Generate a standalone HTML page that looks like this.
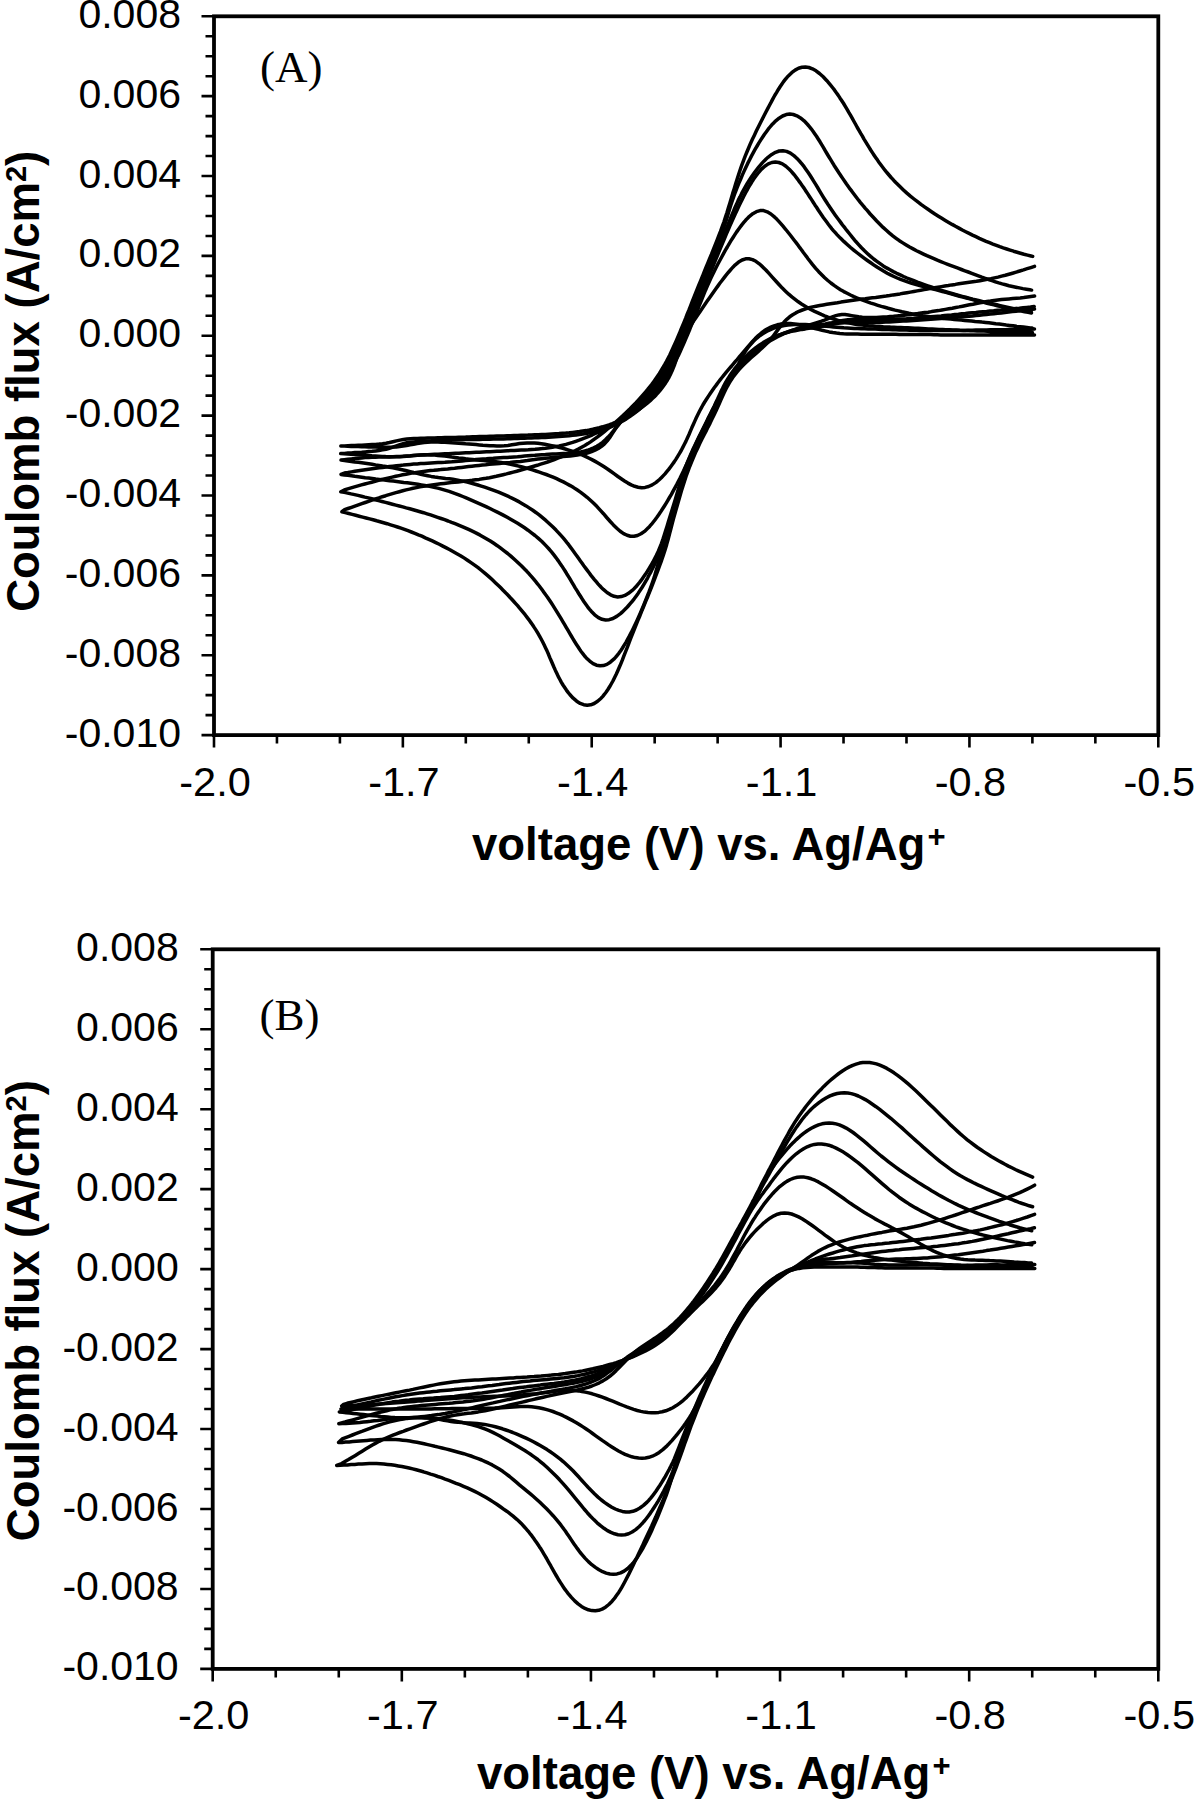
<!DOCTYPE html><html><head><meta charset="utf-8"><style>html,body{margin:0;padding:0;background:#fff;}svg{display:block;}text{font-family:"Liberation Sans",sans-serif;}</style></head><body>
<svg width="1197" height="1800" viewBox="0 0 1197 1800">
<rect width="100%" height="100%" fill="#fff"/>
<g><rect x="214.0" y="16.3" width="944.30" height="718.80" fill="none" stroke="#000" stroke-width="3.8"/><path d="M201.50 16.30H214.00M205.50 36.27H214.00M205.50 56.23H214.00M205.50 76.20H214.00M201.50 96.17H214.00M205.50 116.13H214.00M205.50 136.10H214.00M205.50 156.07H214.00M201.50 176.03H214.00M205.50 196.00H214.00M205.50 215.97H214.00M205.50 235.93H214.00M201.50 255.90H214.00M205.50 275.87H214.00M205.50 295.83H214.00M205.50 315.80H214.00M201.50 335.77H214.00M205.50 355.73H214.00M205.50 375.70H214.00M205.50 395.67H214.00M201.50 415.63H214.00M205.50 435.60H214.00M205.50 455.57H214.00M205.50 475.53H214.00M201.50 495.50H214.00M205.50 515.47H214.00M205.50 535.43H214.00M205.50 555.40H214.00M201.50 575.37H214.00M205.50 595.33H214.00M205.50 615.30H214.00M205.50 635.27H214.00M201.50 655.23H214.00M205.50 675.20H214.00M205.50 695.17H214.00M205.50 715.13H214.00M201.50 735.10H214.00M214.00 735.10V747.60M276.95 735.10V743.60M339.91 735.10V743.60M402.86 735.10V747.60M465.81 735.10V743.60M528.77 735.10V743.60M591.72 735.10V747.60M654.67 735.10V743.60M717.63 735.10V743.60M780.58 735.10V747.60M843.53 735.10V743.60M906.49 735.10V743.60M969.44 735.10V747.60M1032.39 735.10V743.60M1095.35 735.10V743.60M1158.30 735.10V747.60" stroke="#000" stroke-width="2.6" fill="none"/><text x="181.0" y="27.8" font-size="41" text-anchor="end">0.008</text><text x="181.0" y="107.7" font-size="41" text-anchor="end">0.006</text><text x="181.0" y="187.5" font-size="41" text-anchor="end">0.004</text><text x="181.0" y="267.4" font-size="41" text-anchor="end">0.002</text><text x="181.0" y="347.3" font-size="41" text-anchor="end">0.000</text><text x="181.0" y="427.1" font-size="41" text-anchor="end">-0.002</text><text x="181.0" y="507.0" font-size="41" text-anchor="end">-0.004</text><text x="181.0" y="586.9" font-size="41" text-anchor="end">-0.006</text><text x="181.0" y="666.7" font-size="41" text-anchor="end">-0.008</text><text x="181.0" y="746.6" font-size="41" text-anchor="end">-0.010</text><text x="215.0" y="795.6" font-size="41.5" text-anchor="middle">-2.0</text><text x="403.9" y="795.6" font-size="41.5" text-anchor="middle">-1.7</text><text x="592.7" y="795.6" font-size="41.5" text-anchor="middle">-1.4</text><text x="781.6" y="795.6" font-size="41.5" text-anchor="middle">-1.1</text><text x="970.4" y="795.6" font-size="41.5" text-anchor="middle">-0.8</text><text x="1159.3" y="795.6" font-size="41.5" text-anchor="middle">-0.5</text><text x="472.0" y="860.1" font-size="45.5" font-weight="bold">voltage (V) vs. Ag/Ag<tspan font-size="31" dx="2" dy="-13">+</tspan></text><text transform="translate(39,381.3) rotate(-90)" font-size="45.5" font-weight="bold" text-anchor="middle">Coulomb &#xFB02;ux (A/cm<tspan font-size="29" dy="-13">2</tspan><tspan dy="13">)</tspan></text><text x="260.0" y="82.0" font-size="45" style="font-family:'Liberation Serif',serif">(A)</text><path d="M1034.5 335.0 L1030.9 335.0 L1027.3 335.1 L1023.6 335.1 L1020.0 335.1 L1016.2 335.1 L1012.5 335.1 L1008.7 335.1 L1005.0 335.0 L1001.2 335.0 L997.5 335.0 L993.8 335.0 L990.1 335.0 L986.5 335.0 L982.9 335.0 L979.3 335.0 L975.7 335.0 L972.2 335.0 L968.7 335.1 L965.2 335.1 L961.7 335.1 L958.2 335.1 L954.7 335.1 L951.2 335.1 L947.8 335.0 L944.3 335.0 L940.8 334.9 L937.4 334.8 L933.9 334.7 L930.4 334.6 L927.0 334.6 L923.5 334.5 L920.1 334.5 L916.6 334.5 L913.2 334.4 L909.7 334.4 L906.2 334.4 L902.8 334.4 L899.3 334.4 L895.9 334.3 L892.4 334.3 L888.9 334.3 L885.5 334.3 L882.0 334.2 L878.5 334.2 L875.1 334.2 L871.6 334.2 L868.1 334.2 L864.6 334.2 L861.1 334.2 L857.6 334.1 L854.1 334.1 L850.6 334.0 L847.0 333.9 L843.5 333.7 L839.9 333.4 L836.4 333.0 L832.8 332.5 L829.2 331.9 L825.7 331.1 L822.1 330.3 L818.5 329.4 L815.0 328.5 L811.5 327.5 L807.9 326.6 L804.4 325.7 L800.9 325.0 L797.5 324.4 L794.0 323.9 L790.6 323.6 L787.2 323.6 L783.9 323.7 L780.6 324.1 L777.3 324.8 L774.0 325.8 L770.8 327.1 L767.6 328.7 L764.5 330.6 L761.4 333.0 L758.3 335.6 L755.2 338.6 L752.1 342.0 L748.9 345.6 L745.7 349.4 L744.0 351.4 L742.3 353.4 L740.6 355.4 L738.8 357.5 L737.1 359.6 L735.2 361.7 L733.4 363.8 L731.6 366.0 L729.7 368.2 L727.8 370.4 L725.9 372.7 L723.9 375.1 L722.0 377.5 L720.1 379.9 L718.1 382.5 L716.2 385.1 L714.2 387.7 L712.3 390.4 L710.4 393.2 L708.5 396.1 L706.6 399.0 L704.7 402.0 L702.9 405.0 L701.2 408.1 L699.5 411.3 L697.9 414.5 L696.3 417.8 L694.8 421.1 L693.3 424.5 L691.8 427.8 L690.4 431.2 L689.0 434.5 L687.5 437.8 L686.0 441.1 L684.4 444.3 L682.8 447.4 L681.2 450.5 L679.5 453.4 L677.7 456.3 L676.0 459.1 L674.2 461.9 L672.3 464.5 L670.5 467.0 L668.7 469.4 L666.8 471.7 L665.0 473.9 L663.1 475.9 L661.3 477.8 L659.5 479.5 L655.8 482.6 L652.2 484.9 L648.6 486.5 L645.1 487.4 L641.6 487.7 L638.1 487.2 L634.7 486.3 L631.2 484.9 L627.9 483.1 L624.5 481.0 L621.2 478.8 L617.9 476.5 L614.7 474.1 L611.4 471.8 L608.2 469.5 L604.9 467.3 L601.7 465.2 L598.4 463.2 L595.2 461.4 L591.9 459.6 L588.6 458.0 L585.3 456.4 L582.0 455.0 L578.7 453.6 L575.4 452.4 L572.0 451.2 L568.7 450.1 L565.3 449.0 L561.9 448.1 L558.6 447.2 L555.2 446.3 L551.7 445.6 L548.3 444.9 L544.9 444.3 L541.4 443.7 L537.9 443.3 L534.3 443.0 L530.7 442.9 L527.1 442.9 L523.3 443.2 L519.5 443.6 L515.7 444.2 L511.8 444.8 L508.0 445.4 L504.2 445.7 L500.5 445.9 L496.9 445.9 L493.4 445.8 L489.9 445.7 L486.4 445.4 L482.9 445.2 L479.4 444.9 L476.0 444.6 L472.5 444.3 L469.0 444.0 L465.6 443.8 L462.1 443.5 L458.7 443.2 L455.2 443.0 L451.8 442.8 L448.3 442.5 L444.8 442.3 L441.4 442.2 L437.9 442.1 L434.5 442.0 L431.0 442.0 L427.5 442.2 L424.1 442.5 L420.6 443.0 L417.1 443.6 L413.6 444.3 L410.1 444.9 L406.6 445.6 L403.1 446.1 L399.7 446.6 L396.2 446.9 L392.7 447.1 L389.3 447.2 L385.8 447.2 L382.3 447.2 L378.9 447.2 L375.4 447.1 L371.9 447.0 L368.5 447.0 L365.0 446.8 L361.6 446.7 L358.1 446.6 L354.7 446.5 L351.2 446.4 L347.7 446.2 L344.3 446.1 L340.8 446.0 L344.5 445.9 L347.9 445.7 L351.4 445.6 L354.8 445.5 L358.3 445.3 L361.7 445.2 L365.2 445.0 L368.7 444.8 L372.1 444.6 L375.6 444.4 L379.0 444.1 L382.5 443.7 L386.0 443.2 L389.5 442.5 L392.9 441.7 L396.4 440.9 L399.9 440.1 L403.4 439.5 L406.9 439.1 L410.4 438.7 L413.8 438.5 L417.3 438.4 L420.7 438.3 L424.2 438.2 L427.7 438.1 L431.1 438.0 L434.6 437.9 L438.0 437.8 L441.5 437.7 L444.9 437.6 L448.4 437.5 L451.8 437.4 L455.3 437.4 L458.8 437.3 L462.2 437.2 L465.7 437.1 L469.1 436.9 L472.6 436.8 L476.0 436.7 L479.5 436.6 L482.9 436.5 L486.4 436.4 L489.9 436.3 L493.3 436.2 L496.8 436.1 L500.2 436.0 L503.7 435.9 L507.1 435.8 L510.6 435.7 L514.0 435.5 L517.5 435.4 L521.0 435.3 L524.4 435.2 L527.9 435.1 L531.3 434.9 L534.8 434.8 L538.2 434.7 L541.7 434.5 L545.2 434.4 L548.6 434.2 L552.1 434.0 L555.5 433.8 L559.0 433.6 L562.4 433.3 L565.8 433.1 L569.3 432.8 L572.7 432.4 L576.1 432.0 L579.5 431.6 L582.8 431.1 L586.2 430.6 L589.5 430.0 L592.8 429.3 L596.1 428.5 L599.4 427.7 L602.6 426.8 L605.8 425.8 L609.0 424.8 L612.3 423.6 L615.5 422.3 L618.7 420.9 L622.0 419.4 L625.3 417.8 L628.7 415.9 L632.1 413.9 L635.6 411.7 L639.2 409.3 L642.9 406.6 L646.7 403.7 L650.5 400.4 L652.4 398.6 L654.4 396.7 L656.3 394.7 L658.2 392.6 L660.1 390.4 L662.0 388.0 L663.8 385.5 L665.6 382.9 L667.3 380.2 L669.0 377.3 L670.5 374.2 L672.0 371.1 L673.4 367.7 L674.7 364.3 L675.9 360.8 L677.1 357.1 L678.3 353.4 L679.5 349.7 L680.8 346.0 L682.2 342.2 L683.8 338.5 L685.5 334.9 L687.4 331.3 L689.4 327.8 L691.5 324.3 L693.7 320.9 L696.0 317.5 L698.2 314.2 L700.5 310.9 L702.8 307.6 L705.0 304.3 L707.2 301.1 L709.4 298.0 L711.5 294.9 L713.6 291.9 L715.7 289.0 L717.8 286.1 L719.8 283.3 L721.8 280.7 L723.8 278.1 L725.7 275.6 L727.7 273.2 L729.6 271.0 L731.4 268.9 L733.2 266.9 L735.0 265.1 L738.6 262.1 L742.1 260.0 L745.6 258.8 L749.0 258.7 L752.5 259.6 L755.9 261.3 L759.3 263.8 L762.7 266.9 L766.1 270.3 L769.4 273.9 L772.7 277.6 L776.0 281.2 L779.2 284.7 L782.3 288.1 L785.5 291.2 L788.7 294.2 L791.9 296.9 L795.1 299.4 L798.3 301.8 L801.5 304.0 L804.8 306.0 L808.0 307.9 L811.3 309.7 L814.6 311.4 L818.0 312.9 L821.3 314.4 L824.6 315.8 L828.0 317.1 L831.4 318.3 L834.8 319.4 L838.2 320.4 L841.6 321.3 L845.0 322.2 L848.5 322.9 L851.9 323.6 L855.4 324.2 L858.9 324.7 L862.3 325.1 L865.8 325.5 L869.3 325.9 L872.8 326.1 L876.3 326.4 L879.8 326.6 L883.3 326.8 L886.8 326.9 L890.3 327.1 L893.8 327.2 L897.3 327.4 L900.8 327.5 L904.3 327.7 L907.8 327.8 L911.3 328.0 L914.8 328.2 L918.2 328.3 L921.7 328.5 L925.2 328.7 L928.6 328.9 L932.1 329.0 L935.6 329.2 L939.0 329.4 L942.5 329.5 L945.9 329.7 L949.4 329.8 L952.9 330.0 L956.3 330.1 L959.8 330.3 L963.2 330.4 L966.7 330.5 L970.2 330.7 L973.6 330.8 L977.1 330.9 L980.5 331.0 L984.0 331.1 L987.5 331.3 L990.9 331.4 L994.4 331.5 L997.8 331.6 L1001.3 331.7 L1004.7 331.8 L1008.2 331.9 L1011.7 332.0 L1015.1 332.1 L1018.6 332.2 L1022.0 332.3 L1025.5 332.4 L1028.9 332.5 L1032.4 332.6" fill="none" stroke="#000" stroke-width="3.5" stroke-linejoin="round" stroke-linecap="round"/><path d="M1034.5 329.0 L1030.9 329.2 L1027.3 329.3 L1023.7 329.4 L1020.0 329.5 L1016.3 329.6 L1012.6 329.6 L1008.8 329.6 L1005.1 329.7 L1001.3 329.7 L997.6 329.7 L993.9 329.7 L990.2 329.8 L986.6 329.9 L983.0 329.9 L979.4 330.0 L975.9 330.1 L972.3 330.2 L968.8 330.3 L965.3 330.4 L961.8 330.4 L958.3 330.5 L954.8 330.5 L951.3 330.6 L947.9 330.6 L944.4 330.6 L940.9 330.6 L937.5 330.5 L934.0 330.5 L930.5 330.5 L927.1 330.5 L923.6 330.4 L920.1 330.4 L916.7 330.3 L913.2 330.3 L909.8 330.2 L906.3 330.1 L902.8 330.0 L899.4 329.9 L895.9 329.8 L892.4 329.7 L889.0 329.6 L885.5 329.5 L882.0 329.4 L878.6 329.2 L875.1 329.1 L871.6 329.0 L868.2 328.9 L864.7 328.8 L861.2 328.7 L857.7 328.5 L854.2 328.4 L850.8 328.2 L847.3 328.0 L843.8 327.8 L840.3 327.5 L836.8 327.2 L833.3 326.9 L829.8 326.6 L826.3 326.2 L822.8 325.9 L819.3 325.5 L815.8 325.2 L812.3 324.9 L808.8 324.7 L805.3 324.5 L801.8 324.4 L798.3 324.4 L794.8 324.5 L791.3 324.7 L787.8 325.0 L784.3 325.5 L780.8 326.2 L777.4 327.1 L773.9 328.2 L770.4 329.6 L767.0 331.2 L763.5 333.2 L760.1 335.5 L756.6 338.3 L753.2 341.5 L749.8 345.3 L748.1 347.4 L746.4 349.8 L744.8 352.4 L743.1 355.2 L741.5 358.2 L739.8 361.4 L738.2 364.7 L736.5 368.0 L734.8 371.3 L733.1 374.4 L731.3 377.5 L729.5 380.4 L727.7 383.3 L725.9 386.2 L724.1 389.1 L722.4 392.0 L720.6 395.0 L718.9 398.0 L717.1 401.1 L715.4 404.3 L713.7 407.5 L712.0 410.8 L710.2 414.2 L708.5 417.5 L706.9 420.9 L705.2 424.4 L703.5 427.9 L701.8 431.4 L700.1 434.9 L698.5 438.5 L696.8 442.1 L695.1 445.7 L693.5 449.3 L691.8 452.9 L690.2 456.5 L688.5 460.1 L686.9 463.7 L685.2 467.3 L683.6 470.8 L681.9 474.3 L680.2 477.8 L678.4 481.2 L676.7 484.6 L674.9 487.9 L673.1 491.2 L671.4 494.4 L669.5 497.5 L667.7 500.6 L665.9 503.6 L664.1 506.5 L662.3 509.3 L660.5 512.1 L658.7 514.7 L656.9 517.3 L655.1 519.7 L653.3 522.0 L651.6 524.2 L649.8 526.2 L648.0 528.1 L644.5 531.4 L641.0 533.8 L637.5 535.5 L634.0 536.3 L630.5 536.3 L627.1 535.3 L623.6 533.6 L620.2 531.2 L616.8 528.2 L613.4 524.9 L610.0 521.2 L606.7 517.5 L603.5 513.7 L600.2 510.1 L597.0 506.6 L593.7 503.3 L590.4 500.2 L587.1 497.3 L583.7 494.6 L580.4 492.1 L577.0 489.8 L573.6 487.6 L570.2 485.6 L566.8 483.7 L563.4 481.9 L560.0 480.3 L556.6 478.7 L553.1 477.2 L549.7 475.8 L546.3 474.5 L542.8 473.3 L539.4 472.1 L535.9 471.0 L532.5 469.9 L529.1 468.9 L525.6 467.9 L522.2 467.0 L518.7 466.1 L515.2 465.3 L511.8 464.5 L508.3 463.8 L504.8 463.1 L501.3 462.5 L497.7 462.0 L494.2 461.6 L490.6 461.2 L487.0 460.9 L483.4 460.6 L479.8 460.3 L476.2 460.0 L472.7 459.6 L469.1 459.2 L465.6 458.8 L462.2 458.3 L458.7 457.9 L455.2 457.4 L451.8 457.0 L448.3 456.5 L444.8 456.1 L441.4 455.7 L437.9 455.4 L434.5 455.1 L431.0 454.9 L427.5 454.8 L424.0 454.8 L420.5 455.0 L417.0 455.3 L413.5 455.6 L410.0 456.0 L406.5 456.3 L403.0 456.6 L399.5 456.7 L396.0 456.8 L392.6 456.8 L389.1 456.7 L385.6 456.6 L382.2 456.4 L378.7 456.2 L375.2 456.0 L371.8 455.8 L368.3 455.5 L364.9 455.3 L361.4 455.0 L357.9 454.8 L354.5 454.5 L351.0 454.3 L347.6 454.1 L344.1 453.8 L340.7 453.6 L344.5 453.4 L347.9 453.1 L351.4 452.9 L354.8 452.6 L358.3 452.4 L361.7 452.2 L365.2 451.9 L368.7 451.6 L372.1 451.3 L375.6 450.9 L379.0 450.5 L382.5 449.9 L386.0 449.2 L389.4 448.2 L392.9 447.1 L396.4 445.8 L399.9 444.6 L403.3 443.6 L406.8 442.8 L410.3 442.3 L413.7 441.9 L417.2 441.6 L420.6 441.3 L424.1 441.1 L427.5 440.9 L431.0 440.8 L434.5 440.6 L437.9 440.5 L441.4 440.3 L444.8 440.2 L448.3 440.1 L451.7 439.9 L455.2 439.8 L458.7 439.7 L462.1 439.7 L465.6 439.6 L469.0 439.5 L472.5 439.5 L476.0 439.4 L479.4 439.4 L482.9 439.3 L486.3 439.3 L489.8 439.2 L493.3 439.1 L496.7 439.1 L500.2 439.0 L503.6 438.9 L507.1 438.8 L510.5 438.7 L514.0 438.6 L517.5 438.4 L520.9 438.3 L524.4 438.2 L527.8 438.1 L531.3 438.0 L534.7 437.8 L538.2 437.7 L541.7 437.5 L545.1 437.4 L548.6 437.2 L552.0 437.0 L555.5 436.8 L558.9 436.6 L562.3 436.3 L565.8 436.0 L569.2 435.7 L572.6 435.3 L576.0 434.9 L579.4 434.5 L582.8 434.0 L586.2 433.5 L589.5 432.8 L592.9 432.1 L596.2 431.4 L599.5 430.5 L602.8 429.6 L606.2 428.5 L609.5 427.3 L612.8 426.0 L616.1 424.5 L619.5 422.8 L622.8 421.0 L626.3 418.9 L629.7 416.6 L633.2 414.1 L636.8 411.3 L640.4 408.3 L644.1 404.9 L646.0 403.1 L647.9 401.3 L649.8 399.3 L651.7 397.3 L653.6 395.1 L655.5 392.9 L657.4 390.5 L659.2 388.1 L661.1 385.6 L662.9 382.9 L664.8 380.2 L666.6 377.3 L668.4 374.4 L670.1 371.3 L671.9 368.2 L673.6 365.0 L675.2 361.7 L676.9 358.3 L678.6 354.9 L680.2 351.4 L681.8 347.8 L683.4 344.2 L685.0 340.5 L686.6 336.8 L688.2 333.0 L689.8 329.2 L691.3 325.4 L692.9 321.5 L694.5 317.7 L696.0 313.8 L697.6 309.8 L699.1 305.9 L700.7 302.0 L702.3 298.0 L703.9 294.1 L705.5 290.2 L707.2 286.4 L708.9 282.5 L710.6 278.7 L712.4 275.0 L714.3 271.3 L716.1 267.6 L717.9 264.0 L719.8 260.5 L721.7 257.0 L723.5 253.6 L725.4 250.2 L727.3 247.0 L729.1 243.8 L731.0 240.7 L732.9 237.7 L734.7 234.9 L736.5 232.1 L738.4 229.5 L740.2 227.0 L742.0 224.6 L743.8 222.4 L745.6 220.3 L747.4 218.4 L749.2 216.6 L752.8 213.7 L756.4 211.7 L760.0 210.6 L763.6 210.6 L767.2 211.8 L770.9 214.0 L774.7 217.2 L776.7 219.1 L778.6 221.2 L780.6 223.4 L782.6 225.7 L784.6 228.1 L786.6 230.5 L788.6 233.0 L790.6 235.5 L792.5 238.0 L794.4 240.5 L796.3 242.9 L798.1 245.3 L799.8 247.7 L801.6 250.0 L803.2 252.3 L804.9 254.5 L806.5 256.6 L808.0 258.7 L809.6 260.8 L812.6 264.6 L815.7 268.3 L818.7 271.7 L821.7 274.8 L824.7 277.8 L827.8 280.5 L830.9 283.0 L834.1 285.4 L837.3 287.6 L840.5 289.7 L843.8 291.6 L847.1 293.3 L850.5 295.0 L853.9 296.6 L857.2 298.0 L860.6 299.4 L864.1 300.7 L867.5 301.9 L870.9 303.1 L874.4 304.2 L877.8 305.3 L881.3 306.4 L884.7 307.3 L888.2 308.3 L891.7 309.2 L895.1 310.1 L898.6 310.9 L902.0 311.8 L905.5 312.5 L908.9 313.3 L912.4 314.0 L915.9 314.6 L919.3 315.2 L922.8 315.8 L926.3 316.3 L929.8 316.8 L933.2 317.3 L936.7 317.7 L940.2 318.1 L943.7 318.4 L947.2 318.8 L950.7 319.1 L954.2 319.4 L957.7 319.8 L961.2 320.1 L964.6 320.4 L968.1 320.7 L971.6 321.0 L975.1 321.4 L978.5 321.7 L982.0 322.1 L985.5 322.4 L988.9 322.8 L992.4 323.2 L995.8 323.7 L999.3 324.1 L1002.7 324.5 L1006.2 325.0 L1009.6 325.4 L1013.1 325.8 L1016.5 326.3 L1020.0 326.7 L1023.4 327.1 L1026.9 327.5 L1030.3 327.9 L1032.0 328.1" fill="none" stroke="#000" stroke-width="3.5" stroke-linejoin="round" stroke-linecap="round"/><path d="M1034.5 309.0 L1030.8 309.5 L1027.1 309.9 L1023.4 310.4 L1019.7 310.8 L1016.0 311.2 L1012.3 311.6 L1008.6 312.1 L1004.9 312.5 L1001.2 312.9 L997.5 313.3 L993.9 313.7 L990.3 314.1 L986.6 314.4 L983.1 314.8 L979.5 315.2 L975.9 315.5 L972.4 315.9 L968.9 316.2 L965.4 316.5 L961.9 316.8 L958.4 317.1 L955.0 317.4 L951.5 317.7 L948.0 318.0 L944.6 318.3 L941.1 318.5 L937.6 318.8 L934.2 319.0 L930.7 319.3 L927.3 319.5 L923.8 319.7 L920.3 320.0 L916.9 320.2 L913.4 320.4 L910.0 320.7 L906.5 320.9 L903.0 321.1 L899.6 321.3 L896.1 321.5 L892.7 321.7 L889.2 321.9 L885.8 322.1 L882.3 322.2 L878.8 322.4 L875.4 322.5 L871.9 322.7 L868.4 322.8 L865.0 322.8 L861.5 322.8 L858.1 322.8 L854.6 322.7 L851.2 322.7 L847.8 322.6 L844.5 322.7 L841.3 323.0 L838.1 323.3 L834.9 323.9 L831.8 324.5 L828.6 325.1 L825.4 325.8 L822.1 326.3 L818.8 326.9 L815.5 327.4 L812.1 327.9 L808.7 328.3 L805.3 328.9 L801.8 329.4 L798.4 330.0 L794.9 330.7 L791.5 331.4 L788.0 332.2 L784.5 333.2 L781.0 334.3 L777.5 335.5 L773.9 337.0 L770.4 338.6 L766.8 340.5 L763.2 342.6 L759.6 344.9 L755.9 347.6 L752.2 350.6 L748.4 353.9 L746.5 355.7 L744.6 357.5 L742.7 359.5 L740.7 361.6 L738.8 363.8 L736.9 366.1 L735.0 368.4 L733.1 371.0 L731.3 373.6 L729.4 376.3 L727.6 379.2 L725.8 382.2 L724.1 385.3 L722.5 388.6 L720.8 391.9 L719.2 395.4 L717.6 399.0 L715.9 402.6 L714.2 406.4 L712.4 410.1 L710.6 413.9 L708.7 417.8 L706.8 421.7 L704.8 425.6 L702.7 429.6 L700.7 433.6 L698.6 437.6 L696.6 441.8 L694.6 445.9 L692.6 450.1 L690.7 454.4 L688.9 458.8 L687.1 463.2 L685.4 467.6 L683.8 472.1 L682.3 476.6 L680.8 481.2 L679.4 485.8 L678.0 490.3 L676.6 494.9 L675.3 499.5 L673.9 504.1 L672.5 508.6 L671.1 513.1 L669.7 517.5 L668.3 522.0 L667.0 526.4 L665.6 530.8 L664.3 535.1 L662.9 539.4 L661.4 543.6 L659.8 547.6 L658.2 551.5 L656.4 555.2 L654.6 558.7 L652.8 562.2 L650.9 565.5 L649.0 568.6 L647.1 571.7 L645.2 574.6 L643.3 577.3 L641.5 579.9 L639.6 582.4 L637.7 584.6 L635.9 586.8 L634.0 588.7 L632.2 590.4 L628.5 593.3 L624.9 595.4 L621.3 596.6 L617.7 596.9 L614.1 596.3 L610.6 594.8 L607.0 592.5 L603.4 589.4 L601.6 587.7 L599.8 585.8 L598.0 583.8 L596.2 581.7 L594.4 579.6 L592.6 577.4 L590.8 575.1 L589.1 572.8 L587.3 570.4 L585.6 568.1 L583.8 565.7 L582.1 563.3 L580.4 561.0 L578.7 558.6 L577.1 556.3 L575.4 554.0 L573.8 551.8 L572.2 549.5 L570.6 547.4 L569.0 545.2 L567.4 543.2 L565.8 541.1 L564.2 539.2 L562.5 537.2 L559.3 533.6 L556.0 530.1 L552.7 526.8 L549.4 523.7 L546.1 520.7 L542.8 517.9 L539.5 515.2 L536.2 512.7 L532.8 510.3 L529.5 508.1 L526.1 505.9 L522.7 503.9 L519.3 501.9 L515.9 500.1 L512.4 498.4 L509.0 496.7 L505.6 495.2 L502.1 493.7 L498.6 492.2 L495.2 490.9 L491.7 489.6 L488.2 488.4 L484.7 487.2 L481.3 486.1 L477.8 485.0 L474.3 484.0 L470.8 483.0 L467.3 482.1 L463.7 481.3 L460.1 480.6 L456.6 479.9 L452.9 479.3 L449.3 478.8 L445.6 478.4 L442.0 477.9 L438.4 477.5 L434.8 477.0 L431.2 476.4 L427.7 475.7 L424.2 475.0 L420.7 474.2 L417.2 473.3 L413.7 472.5 L410.2 471.6 L406.7 470.8 L403.3 470.0 L399.8 469.2 L396.3 468.5 L392.9 467.8 L389.4 467.2 L385.9 466.5 L382.5 466.0 L379.0 465.4 L375.6 464.9 L372.1 464.3 L368.7 463.8 L365.2 463.3 L361.7 462.8 L358.3 462.3 L354.8 461.9 L351.4 461.4 L347.9 461.0 L344.5 460.5 L341.0 460.1 L344.4 459.7 L347.8 459.3 L351.3 458.9 L354.7 458.6 L358.2 458.2 L361.7 457.9 L365.1 457.6 L368.6 457.4 L372.1 457.3 L375.6 457.2 L379.1 457.1 L382.6 457.0 L386.0 457.0 L389.5 456.9 L393.0 456.8 L396.5 456.6 L400.0 456.4 L403.4 456.2 L406.9 456.0 L410.4 455.8 L413.8 455.5 L417.3 455.3 L420.7 455.1 L424.2 454.9 L427.7 454.7 L431.1 454.5 L434.6 454.3 L438.1 454.2 L441.5 454.0 L445.0 453.8 L448.4 453.7 L451.9 453.5 L455.4 453.3 L458.8 453.2 L462.3 453.0 L465.8 452.8 L469.2 452.7 L472.7 452.5 L476.1 452.3 L479.6 452.2 L483.1 452.0 L486.5 451.8 L490.0 451.7 L493.5 451.5 L496.9 451.3 L500.4 451.2 L503.9 451.0 L507.3 450.8 L510.8 450.6 L514.3 450.5 L517.7 450.3 L521.2 450.1 L524.7 449.9 L528.2 449.7 L531.6 449.4 L535.1 449.2 L538.6 448.9 L542.0 448.6 L545.5 448.2 L549.0 447.7 L552.4 447.2 L555.8 446.6 L559.2 446.0 L562.6 445.2 L565.9 444.4 L569.3 443.4 L572.6 442.4 L575.8 441.3 L579.1 440.2 L582.4 438.9 L585.6 437.7 L588.8 436.3 L592.1 435.0 L595.3 433.5 L598.6 432.1 L601.9 430.6 L605.2 429.0 L608.5 427.3 L611.8 425.6 L615.2 423.8 L618.7 421.8 L622.1 419.7 L625.6 417.5 L629.2 415.1 L632.8 412.4 L636.5 409.5 L640.2 406.3 L642.0 404.6 L643.9 402.8 L645.8 401.0 L647.7 399.0 L649.6 397.0 L651.4 394.8 L653.3 392.6 L655.2 390.2 L657.1 387.8 L658.9 385.2 L660.8 382.6 L662.6 379.8 L664.4 377.0 L666.2 374.0 L668.0 370.9 L669.8 367.8 L671.5 364.5 L673.3 361.1 L675.0 357.7 L676.7 354.2 L678.3 350.6 L680.0 346.9 L681.7 343.1 L683.4 339.3 L685.0 335.5 L686.7 331.5 L688.3 327.5 L690.0 323.5 L691.6 319.4 L693.3 315.3 L695.0 311.1 L696.6 306.9 L698.3 302.6 L700.0 298.4 L701.7 294.1 L703.4 289.8 L705.2 285.5 L706.9 281.2 L708.6 276.8 L710.4 272.5 L712.2 268.2 L713.9 263.9 L715.7 259.6 L717.5 255.3 L719.2 251.0 L721.0 246.7 L722.8 242.5 L724.6 238.3 L726.3 234.2 L728.1 230.1 L729.8 226.0 L731.6 222.0 L733.4 218.1 L735.1 214.2 L736.9 210.4 L738.6 206.7 L740.4 203.0 L742.2 199.4 L743.9 196.0 L745.6 192.6 L747.4 189.5 L749.1 186.4 L750.9 183.5 L752.6 180.7 L754.3 178.1 L756.1 175.7 L757.8 173.4 L759.6 171.3 L761.3 169.4 L764.8 166.2 L768.3 163.9 L771.8 162.5 L775.3 162.0 L778.8 162.5 L782.4 163.9 L785.9 166.3 L789.5 169.5 L791.3 171.4 L793.1 173.5 L795.0 175.7 L796.8 178.1 L798.6 180.6 L800.5 183.1 L802.3 185.8 L804.2 188.4 L806.0 191.2 L807.8 193.9 L809.6 196.7 L811.4 199.4 L813.2 202.2 L814.9 204.9 L816.7 207.5 L818.4 210.2 L820.1 212.7 L821.8 215.2 L823.5 217.7 L825.2 220.0 L826.9 222.3 L828.5 224.5 L830.2 226.7 L831.9 228.8 L833.6 230.8 L835.3 232.7 L837.0 234.6 L840.4 238.1 L843.8 241.4 L847.2 244.5 L850.6 247.5 L854.0 250.3 L857.4 253.0 L860.8 255.6 L864.1 258.1 L867.4 260.5 L870.7 262.8 L874.0 265.1 L877.3 267.3 L880.6 269.3 L883.9 271.3 L887.2 273.2 L890.5 274.9 L893.9 276.5 L897.2 278.0 L900.6 279.4 L904.1 280.7 L907.5 281.9 L911.0 283.0 L914.5 284.0 L918.0 285.0 L921.5 286.0 L925.0 286.9 L928.5 287.8 L932.0 288.7 L935.5 289.6 L939.0 290.6 L942.4 291.5 L945.9 292.4 L949.3 293.4 L952.7 294.3 L956.2 295.2 L959.6 296.2 L963.0 297.1 L966.5 298.0 L969.9 298.9 L973.3 299.8 L976.7 300.7 L980.2 301.5 L983.6 302.4 L987.0 303.2 L990.4 304.0 L993.9 304.9 L997.3 305.7 L1000.7 306.5 L1004.1 307.3 L1007.6 308.1 L1011.0 308.8 L1014.4 309.6 L1017.8 310.3 L1021.3 311.0 L1024.7 311.7 L1028.1 312.3 L1031.5 313.0" fill="none" stroke="#000" stroke-width="3.5" stroke-linejoin="round" stroke-linecap="round"/><path d="M1034.2 306.5 L1030.5 307.0 L1026.8 307.4 L1023.1 307.8 L1019.4 308.2 L1015.7 308.5 L1012.0 308.9 L1008.3 309.3 L1004.7 309.6 L1001.0 310.0 L997.4 310.3 L993.7 310.7 L990.1 311.0 L986.6 311.4 L983.0 311.7 L979.4 312.0 L975.9 312.4 L972.4 312.7 L968.9 313.1 L965.4 313.5 L961.9 313.8 L958.4 314.2 L955.0 314.5 L951.5 314.9 L948.0 315.2 L944.6 315.5 L941.1 315.9 L937.7 316.2 L934.2 316.5 L930.7 316.8 L927.3 317.1 L923.8 317.4 L920.4 317.7 L916.9 317.9 L913.5 318.2 L910.0 318.4 L906.5 318.7 L903.1 318.9 L899.6 319.1 L896.2 319.3 L892.7 319.4 L889.2 319.6 L885.8 319.7 L882.3 319.7 L878.8 319.7 L875.3 319.7 L871.9 319.6 L868.4 319.4 L864.9 319.3 L861.4 319.2 L858.0 319.2 L854.6 319.3 L851.2 319.5 L847.9 319.8 L844.6 320.2 L841.4 320.8 L838.2 321.4 L835.0 322.0 L831.8 322.7 L828.6 323.3 L825.4 324.0 L822.1 324.6 L818.7 325.1 L815.4 325.7 L812.0 326.3 L808.5 326.9 L805.1 327.5 L801.6 328.2 L798.1 329.0 L794.6 329.8 L791.1 330.8 L787.5 331.9 L783.9 333.2 L780.3 334.6 L776.7 336.2 L773.0 338.1 L769.3 340.1 L765.6 342.4 L761.8 345.0 L757.9 347.8 L754.0 350.9 L752.0 352.6 L750.0 354.3 L748.1 356.1 L746.1 358.0 L744.1 360.0 L742.1 362.1 L740.1 364.3 L738.1 366.6 L736.2 368.9 L734.3 371.4 L732.4 374.0 L730.5 376.7 L728.7 379.5 L727.0 382.4 L725.3 385.5 L723.6 388.6 L722.0 391.9 L720.5 395.2 L718.9 398.7 L717.4 402.2 L715.8 405.7 L714.2 409.3 L712.5 412.9 L710.7 416.5 L708.9 420.1 L707.1 423.8 L705.2 427.5 L703.3 431.2 L701.3 434.9 L699.4 438.7 L697.5 442.6 L695.7 446.4 L693.8 450.4 L692.0 454.3 L690.3 458.4 L688.7 462.5 L687.1 466.6 L685.6 470.8 L684.1 475.0 L682.7 479.2 L681.4 483.5 L680.1 487.8 L678.8 492.1 L677.5 496.4 L676.2 500.8 L674.8 505.1 L673.5 509.3 L672.1 513.6 L670.8 517.9 L669.4 522.1 L668.0 526.4 L666.6 530.6 L665.2 534.9 L663.9 539.1 L662.6 543.4 L661.3 547.6 L659.8 551.7 L658.3 555.8 L656.7 559.7 L655.0 563.5 L653.2 567.2 L651.4 570.8 L649.5 574.3 L647.7 577.8 L645.8 581.1 L643.9 584.3 L642.0 587.5 L640.0 590.5 L638.1 593.4 L636.1 596.2 L634.2 598.8 L632.2 601.3 L630.2 603.7 L628.2 606.0 L626.3 608.1 L624.3 610.1 L622.4 611.9 L620.5 613.6 L616.7 616.4 L612.9 618.5 L609.2 619.7 L605.6 620.0 L602.0 619.3 L598.4 617.6 L594.7 614.8 L591.2 611.2 L589.4 609.1 L587.6 606.8 L585.8 604.3 L584.0 601.8 L582.3 599.1 L580.5 596.3 L578.7 593.5 L577.0 590.7 L575.2 587.8 L573.5 584.9 L571.8 582.1 L570.1 579.2 L568.4 576.4 L566.7 573.7 L565.1 571.0 L563.4 568.4 L561.8 565.9 L560.1 563.5 L558.5 561.1 L556.8 558.8 L555.2 556.6 L553.5 554.4 L551.9 552.4 L550.2 550.4 L548.6 548.5 L545.2 544.9 L541.9 541.5 L538.4 538.4 L535.0 535.5 L531.5 532.8 L528.0 530.2 L524.6 527.8 L521.1 525.5 L517.6 523.3 L514.1 521.3 L510.6 519.2 L507.2 517.3 L503.7 515.4 L500.3 513.6 L496.8 511.9 L493.4 510.2 L490.0 508.5 L486.6 506.9 L483.2 505.3 L479.8 503.8 L476.4 502.3 L473.0 500.8 L469.6 499.3 L466.2 497.9 L462.8 496.5 L459.4 495.1 L456.0 493.8 L452.6 492.6 L449.2 491.4 L445.7 490.4 L442.3 489.4 L438.8 488.4 L435.3 487.6 L431.8 486.8 L428.3 486.1 L424.8 485.5 L421.3 484.9 L417.8 484.3 L414.3 483.8 L410.8 483.3 L407.2 482.8 L403.7 482.4 L400.2 481.9 L396.7 481.5 L393.2 481.1 L389.7 480.7 L386.2 480.2 L382.7 479.8 L379.2 479.4 L375.7 479.0 L372.2 478.5 L368.7 478.1 L365.2 477.7 L361.8 477.2 L358.3 476.7 L354.8 476.3 L351.4 475.8 L347.9 475.3 L344.4 474.9 L341.0 474.4 L344.4 473.0 L347.9 472.5 L351.4 471.9 L354.8 471.3 L358.3 470.8 L361.7 470.3 L365.2 469.8 L368.7 469.3 L372.1 468.8 L375.6 468.3 L379.1 467.8 L382.5 467.4 L386.0 467.0 L389.4 466.6 L392.9 466.2 L396.4 465.8 L399.8 465.4 L403.3 465.1 L406.8 464.7 L410.2 464.4 L413.7 464.1 L417.2 463.9 L420.6 463.6 L424.1 463.4 L427.6 463.2 L431.0 463.0 L434.5 462.8 L438.0 462.6 L441.4 462.4 L444.9 462.2 L448.4 461.9 L451.8 461.7 L455.3 461.4 L458.7 461.2 L462.2 460.9 L465.7 460.6 L469.1 460.3 L472.6 459.9 L476.0 459.6 L479.5 459.3 L482.9 459.0 L486.4 458.8 L489.8 458.5 L493.3 458.3 L496.8 458.0 L500.2 457.8 L503.7 457.6 L507.1 457.4 L510.6 457.2 L514.1 456.9 L517.5 456.7 L521.0 456.4 L524.5 456.1 L527.9 455.8 L531.4 455.5 L534.9 455.3 L538.4 455.0 L541.9 454.7 L545.4 454.5 L548.9 454.2 L552.5 454.0 L556.0 453.9 L559.6 453.7 L563.2 453.5 L566.7 453.4 L570.3 453.1 L573.8 452.8 L577.3 452.4 L580.7 451.9 L584.1 451.1 L587.4 450.3 L590.6 449.2 L593.7 447.8 L596.8 446.3 L599.7 444.4 L602.6 442.3 L605.4 439.8 L608.1 437.1 L610.8 434.1 L613.5 430.8 L616.3 427.4 L619.2 423.8 L622.3 420.1 L625.7 416.4 L627.5 414.6 L629.4 412.7 L631.4 410.8 L633.4 408.9 L635.4 407.0 L637.5 405.1 L639.6 403.1 L641.8 401.0 L644.0 398.9 L646.2 396.7 L648.4 394.4 L650.6 392.1 L652.7 389.6 L654.8 387.1 L656.9 384.4 L659.0 381.6 L661.0 378.7 L662.9 375.7 L664.8 372.6 L666.7 369.4 L668.5 366.2 L670.3 362.8 L672.1 359.3 L673.8 355.8 L675.5 352.2 L677.2 348.5 L678.8 344.8 L680.5 341.0 L682.1 337.2 L683.7 333.4 L685.4 329.5 L687.0 325.5 L688.6 321.6 L690.2 317.6 L691.8 313.6 L693.4 309.5 L695.0 305.4 L696.7 301.3 L698.3 297.2 L699.9 293.1 L701.6 289.0 L703.2 284.9 L704.9 280.7 L706.6 276.6 L708.2 272.4 L709.9 268.3 L711.6 264.2 L713.3 260.0 L715.1 255.9 L716.8 251.8 L718.5 247.7 L720.2 243.7 L721.9 239.6 L723.6 235.5 L725.3 231.5 L726.9 227.5 L728.5 223.5 L730.1 219.5 L731.7 215.5 L733.3 211.6 L734.9 207.8 L736.6 204.1 L738.2 200.4 L740.0 196.9 L741.7 193.4 L743.5 190.1 L745.3 186.8 L747.1 183.7 L749.0 180.7 L750.9 177.8 L752.8 175.0 L754.7 172.3 L756.6 169.8 L758.5 167.4 L760.4 165.1 L762.3 162.9 L764.2 160.9 L766.1 159.0 L768.0 157.3 L771.8 154.4 L775.5 152.3 L779.2 151.0 L782.9 150.7 L786.6 151.4 L790.4 153.1 L794.2 155.9 L796.2 157.7 L798.1 159.6 L800.1 161.8 L802.1 164.2 L804.1 166.7 L806.0 169.4 L808.0 172.2 L810.0 175.2 L811.9 178.2 L813.8 181.3 L815.7 184.4 L817.6 187.5 L819.4 190.6 L821.2 193.6 L823.0 196.6 L824.8 199.5 L826.6 202.3 L828.4 205.1 L830.2 207.7 L831.9 210.3 L833.6 212.8 L835.3 215.2 L837.0 217.5 L838.7 219.7 L840.3 221.9 L841.9 224.1 L843.5 226.2 L845.1 228.2 L846.6 230.2 L849.7 234.0 L852.6 237.7 L855.6 241.3 L858.6 244.6 L861.5 247.8 L864.5 250.8 L867.6 253.7 L870.6 256.4 L873.7 259.0 L876.9 261.4 L880.1 263.7 L883.3 265.9 L886.6 267.9 L890.0 269.8 L893.3 271.6 L896.7 273.3 L900.2 274.9 L903.6 276.5 L907.0 278.0 L910.5 279.4 L913.9 280.7 L917.4 282.1 L920.9 283.4 L924.3 284.6 L927.8 285.8 L931.2 287.0 L934.6 288.2 L938.1 289.3 L941.5 290.4 L945.0 291.5 L948.4 292.5 L951.9 293.5 L955.3 294.5 L958.8 295.5 L962.2 296.4 L965.7 297.3 L969.1 298.2 L972.6 299.1 L976.1 299.9 L979.5 300.8 L983.0 301.6 L986.5 302.4 L989.9 303.2 L993.4 304.0 L996.8 304.8 L1000.2 305.6 L1003.7 306.4 L1007.1 307.1 L1010.6 307.9 L1014.0 308.6 L1017.4 309.4 L1020.9 310.1 L1024.3 310.7 L1027.7 311.4 L1031.2 312.0" fill="none" stroke="#000" stroke-width="3.5" stroke-linejoin="round" stroke-linecap="round"/><path d="M1034.6 296.1 L1031.0 296.6 L1027.5 297.1 L1023.8 297.6 L1020.2 298.0 L1016.5 298.3 L1012.7 298.6 L1009.0 298.9 L1005.2 299.2 L1001.5 299.6 L997.8 300.0 L994.1 300.4 L990.5 301.0 L986.9 301.5 L983.4 302.2 L979.9 302.8 L976.4 303.5 L972.9 304.2 L969.5 304.8 L966.0 305.5 L962.6 306.2 L959.1 306.9 L955.7 307.5 L952.3 308.2 L948.8 308.8 L945.4 309.4 L942.0 310.0 L938.5 310.6 L935.1 311.1 L931.6 311.6 L928.2 312.2 L924.7 312.6 L921.3 313.1 L917.8 313.6 L914.4 314.0 L910.9 314.4 L907.4 314.8 L904.0 315.2 L900.5 315.6 L897.1 315.9 L893.6 316.3 L890.1 316.6 L886.7 316.9 L883.2 317.1 L879.7 317.3 L876.3 317.5 L872.8 317.6 L869.3 317.6 L865.8 317.5 L862.3 317.2 L858.7 316.8 L855.2 316.2 L851.7 315.6 L848.3 315.0 L845.0 314.6 L841.8 314.5 L838.8 314.9 L835.9 315.6 L833.1 316.6 L830.4 317.7 L827.5 318.9 L824.6 320.1 L821.6 321.2 L818.5 322.2 L815.3 323.2 L812.0 324.2 L808.7 325.2 L805.3 326.1 L801.9 327.2 L798.4 328.2 L795.0 329.4 L791.5 330.7 L787.9 332.0 L784.4 333.5 L780.8 335.2 L777.1 337.0 L773.5 339.0 L769.8 341.1 L766.0 343.5 L762.2 346.2 L758.3 349.0 L754.4 352.2 L752.4 353.8 L750.4 355.6 L748.4 357.4 L746.4 359.4 L744.4 361.4 L742.4 363.5 L740.4 365.8 L738.4 368.1 L736.4 370.6 L734.5 373.2 L732.5 375.9 L730.7 378.7 L728.8 381.7 L727.1 384.8 L725.3 388.0 L723.6 391.4 L722.0 394.9 L720.3 398.5 L718.6 402.3 L716.9 406.1 L715.1 409.9 L713.3 413.9 L711.3 417.8 L709.3 421.9 L707.3 425.9 L705.2 430.1 L703.0 434.3 L700.9 438.6 L698.7 442.9 L696.6 447.3 L694.5 451.8 L692.5 456.4 L690.5 461.1 L688.7 465.8 L686.8 470.7 L685.1 475.6 L683.4 480.5 L681.9 485.6 L680.3 490.6 L678.8 495.8 L677.3 500.9 L675.8 506.1 L674.3 511.2 L672.8 516.4 L671.2 521.6 L669.7 526.8 L668.1 531.9 L666.5 537.1 L664.9 542.2 L663.3 547.3 L661.7 552.4 L660.1 557.4 L658.5 562.5 L657.1 567.5 L655.6 572.5 L654.2 577.4 L652.5 582.3 L650.8 587.0 L649.1 591.6 L647.3 596.1 L645.5 600.6 L643.8 604.9 L642.0 609.2 L640.2 613.4 L638.4 617.4 L636.6 621.4 L634.8 625.2 L633.0 628.9 L631.3 632.4 L629.5 635.9 L627.7 639.1 L626.0 642.3 L624.2 645.2 L622.5 648.0 L620.7 650.7 L619.0 653.1 L617.2 655.3 L615.5 657.4 L613.8 659.2 L610.3 662.2 L606.9 664.4 L603.4 665.6 L600.0 665.8 L596.5 665.2 L593.1 663.6 L589.7 661.1 L586.3 657.9 L584.6 656.0 L583.0 653.9 L581.3 651.7 L579.6 649.3 L578.0 646.8 L576.3 644.2 L574.6 641.5 L573.0 638.8 L571.3 636.0 L569.6 633.1 L567.9 630.2 L566.2 627.3 L564.5 624.4 L562.8 621.6 L561.1 618.7 L559.4 615.9 L557.7 613.1 L556.0 610.3 L554.3 607.6 L552.6 604.9 L550.9 602.3 L549.2 599.8 L547.5 597.2 L545.7 594.8 L544.0 592.4 L542.3 590.0 L540.6 587.7 L538.9 585.5 L537.1 583.3 L535.4 581.2 L533.7 579.1 L532.0 577.1 L530.2 575.1 L528.5 573.2 L526.8 571.3 L525.0 569.5 L521.6 566.0 L518.1 562.7 L514.6 559.5 L511.1 556.4 L507.7 553.5 L504.2 550.8 L500.7 548.2 L497.3 545.7 L493.8 543.3 L490.3 541.0 L486.8 538.9 L483.3 536.9 L479.8 534.9 L476.3 533.1 L472.8 531.4 L469.2 529.7 L465.7 528.1 L462.2 526.6 L458.6 525.1 L455.1 523.7 L451.6 522.4 L448.1 521.0 L444.6 519.7 L441.1 518.5 L437.6 517.3 L434.1 516.1 L430.6 514.9 L427.1 513.8 L423.6 512.7 L420.1 511.7 L416.7 510.7 L413.2 509.7 L409.7 508.8 L406.2 507.9 L402.8 506.9 L399.3 506.0 L395.8 505.1 L392.4 504.2 L388.9 503.3 L385.5 502.4 L382.0 501.5 L378.6 500.6 L375.2 499.7 L371.7 498.8 L368.3 497.9 L364.9 497.1 L361.5 496.2 L358.0 495.4 L354.6 494.6 L351.1 493.9 L347.7 493.1 L344.3 492.4 L340.8 491.7 L344.3 490.0 L347.7 488.9 L351.1 487.9 L354.5 486.9 L358.0 485.9 L361.4 484.9 L364.8 484.0 L368.2 483.1 L371.7 482.2 L375.1 481.3 L378.5 480.4 L381.9 479.5 L385.4 478.7 L388.8 477.9 L392.2 477.1 L395.7 476.3 L399.1 475.6 L402.6 474.8 L406.0 474.2 L409.5 473.5 L412.9 472.9 L416.4 472.4 L419.9 471.9 L423.3 471.4 L426.8 471.0 L430.3 470.6 L433.8 470.3 L437.3 469.9 L440.7 469.6 L444.2 469.2 L447.7 468.9 L451.2 468.5 L454.6 468.2 L458.1 467.8 L461.6 467.4 L465.0 467.0 L468.5 466.6 L471.9 466.2 L475.4 465.8 L478.9 465.4 L482.3 465.0 L485.8 464.7 L489.2 464.3 L492.7 464.0 L496.2 463.7 L499.6 463.4 L503.1 463.1 L506.6 462.8 L510.0 462.5 L513.5 462.1 L517.0 461.7 L520.4 461.4 L523.9 460.9 L527.4 460.5 L530.9 460.0 L534.4 459.6 L537.9 459.1 L541.4 458.7 L544.9 458.3 L548.5 457.9 L552.1 457.6 L555.7 457.2 L559.3 456.9 L562.9 456.6 L566.5 456.3 L570.2 456.0 L573.8 455.5 L577.4 455.1 L581.0 454.4 L584.6 453.7 L588.1 452.8 L591.6 451.6 L595.0 450.2 L598.3 448.5 L601.5 446.4 L604.5 443.9 L607.2 440.9 L609.8 437.5 L612.3 433.6 L614.9 429.6 L617.7 425.6 L620.7 421.7 L624.0 417.9 L625.7 416.0 L627.5 414.2 L629.3 412.3 L631.2 410.4 L633.1 408.4 L635.0 406.5 L636.9 404.5 L638.9 402.4 L640.9 400.3 L642.9 398.1 L644.8 395.9 L646.8 393.6 L648.8 391.2 L650.8 388.8 L652.8 386.3 L654.8 383.7 L656.7 381.0 L658.7 378.2 L660.6 375.3 L662.4 372.4 L664.3 369.3 L666.1 366.1 L667.9 362.9 L669.6 359.5 L671.4 356.1 L673.1 352.6 L674.8 349.0 L676.4 345.3 L678.1 341.5 L679.8 337.7 L681.4 333.8 L683.1 329.9 L684.7 325.8 L686.3 321.8 L688.0 317.7 L689.7 313.5 L691.3 309.3 L693.0 305.0 L694.7 300.7 L696.5 296.4 L698.2 292.0 L700.0 287.6 L701.8 283.2 L703.6 278.8 L705.4 274.3 L707.3 269.8 L709.1 265.3 L710.9 260.8 L712.8 256.2 L714.6 251.6 L716.4 247.1 L718.2 242.5 L720.0 237.9 L721.8 233.3 L723.4 228.7 L725.0 224.0 L726.5 219.4 L727.9 214.7 L729.3 210.0 L730.7 205.4 L732.2 200.9 L733.8 196.4 L735.4 192.0 L737.1 187.7 L738.8 183.4 L740.6 179.2 L742.3 175.1 L744.1 171.1 L745.9 167.2 L747.7 163.4 L749.6 159.7 L751.4 156.1 L753.3 152.6 L755.2 149.2 L757.1 146.0 L758.9 142.9 L760.8 139.9 L762.7 137.0 L764.5 134.3 L766.4 131.7 L768.2 129.2 L770.0 127.0 L771.8 124.8 L773.7 122.9 L775.5 121.1 L779.1 118.2 L782.6 116.0 L786.2 114.6 L789.8 114.1 L793.3 114.5 L796.9 115.8 L800.5 117.9 L804.1 120.8 L807.6 124.5 L809.4 126.6 L811.2 128.8 L813.0 131.2 L814.7 133.7 L816.5 136.3 L818.2 139.0 L820.0 141.8 L821.7 144.7 L823.5 147.6 L825.2 150.6 L826.9 153.5 L828.7 156.5 L830.5 159.4 L832.3 162.3 L834.0 165.2 L835.8 168.0 L837.6 170.8 L839.4 173.6 L841.2 176.2 L843.0 178.9 L844.8 181.5 L846.5 184.0 L848.3 186.5 L850.0 188.9 L851.8 191.2 L853.5 193.5 L855.2 195.8 L856.9 198.0 L858.6 200.2 L860.3 202.3 L862.0 204.3 L863.7 206.3 L865.3 208.3 L867.0 210.2 L870.2 214.0 L873.5 217.5 L876.7 221.0 L879.9 224.2 L883.1 227.4 L886.3 230.3 L889.5 233.1 L892.8 235.8 L896.1 238.3 L899.4 240.7 L902.8 242.9 L906.2 245.0 L909.6 247.0 L913.1 248.9 L916.5 250.7 L920.0 252.4 L923.5 254.1 L926.9 255.7 L930.4 257.2 L933.9 258.7 L937.3 260.2 L940.8 261.6 L944.3 263.0 L947.7 264.3 L951.1 265.6 L954.6 266.9 L958.0 268.2 L961.4 269.5 L964.9 270.8 L968.3 272.0 L971.7 273.3 L975.1 274.6 L978.4 275.8 L981.8 277.1 L985.2 278.3 L988.6 279.5 L992.0 280.7 L995.4 281.8 L998.8 282.9 L1002.2 283.9 L1005.6 284.8 L1009.0 285.7 L1012.5 286.5 L1015.9 287.2 L1019.4 287.9 L1022.9 288.6 L1026.4 289.2 L1029.9 289.8 L1031.6 290.1" fill="none" stroke="#000" stroke-width="3.5" stroke-linejoin="round" stroke-linecap="round"/><path d="M1034.5 266.4 L1030.8 267.6 L1027.2 268.7 L1023.5 269.9 L1019.8 271.0 L1016.2 272.1 L1012.5 273.2 L1008.9 274.2 L1005.3 275.2 L1001.6 276.1 L998.0 277.1 L994.4 277.9 L990.8 278.7 L987.2 279.4 L983.6 280.1 L980.0 280.7 L976.4 281.3 L972.9 281.8 L969.3 282.3 L965.8 282.8 L962.3 283.3 L958.8 283.8 L955.3 284.4 L951.8 284.9 L948.3 285.5 L944.8 286.0 L941.4 286.6 L937.9 287.2 L934.5 287.8 L931.0 288.4 L927.5 289.0 L924.1 289.6 L920.6 290.3 L917.2 290.9 L913.8 291.5 L910.3 292.1 L906.9 292.7 L903.4 293.3 L900.0 293.9 L896.5 294.4 L893.1 294.9 L889.6 295.5 L886.1 296.0 L882.7 296.4 L879.2 296.9 L875.7 297.4 L872.3 297.8 L868.8 298.2 L865.3 298.7 L861.9 299.1 L858.4 299.6 L854.9 300.1 L851.4 300.6 L847.9 301.1 L844.4 301.6 L840.9 302.1 L837.4 302.7 L833.9 303.2 L830.3 303.7 L826.8 304.3 L823.2 304.9 L819.7 305.5 L816.1 306.2 L812.6 306.9 L809.1 307.8 L805.7 308.8 L802.3 310.0 L799.0 311.3 L795.8 312.9 L792.7 314.7 L789.7 316.8 L786.8 319.3 L784.1 322.0 L781.5 325.1 L778.9 328.4 L776.3 331.9 L773.6 335.5 L770.7 339.2 L767.5 342.7 L763.9 346.3 L762.1 348.0 L760.1 349.8 L758.1 351.6 L756.1 353.3 L754.0 355.1 L751.9 357.0 L749.7 358.9 L747.6 360.9 L745.4 362.9 L743.3 365.0 L741.1 367.3 L739.0 369.6 L736.9 372.1 L734.9 374.6 L732.9 377.3 L731.0 380.2 L729.2 383.2 L727.4 386.3 L725.7 389.5 L724.0 392.9 L722.4 396.4 L720.8 400.0 L719.2 403.7 L717.5 407.5 L715.8 411.3 L713.9 415.2 L712.0 419.1 L710.1 423.1 L708.0 427.1 L706.0 431.2 L703.9 435.3 L701.7 439.5 L699.6 443.8 L697.6 448.2 L695.5 452.6 L693.5 457.2 L691.6 461.8 L689.7 466.5 L687.9 471.3 L686.1 476.2 L684.5 481.2 L682.9 486.2 L681.3 491.3 L679.8 496.5 L678.3 501.7 L676.8 506.9 L675.3 512.2 L673.8 517.5 L672.4 522.8 L671.0 528.2 L669.6 533.6 L668.2 539.0 L666.7 544.4 L665.1 549.7 L663.4 555.0 L661.6 560.3 L659.7 565.5 L657.8 570.7 L655.8 575.9 L653.9 581.0 L651.9 586.1 L649.9 591.2 L647.9 596.2 L645.8 601.1 L643.8 606.0 L641.8 610.9 L639.9 615.7 L637.9 620.4 L636.0 625.1 L634.2 629.7 L632.4 634.2 L630.6 638.7 L628.9 643.1 L627.3 647.4 L625.6 651.6 L624.0 655.7 L622.5 659.7 L620.9 663.6 L619.3 667.3 L617.7 671.0 L616.1 674.5 L614.5 677.8 L612.9 681.0 L611.2 684.0 L609.6 686.8 L607.9 689.5 L606.2 692.0 L604.5 694.2 L602.8 696.3 L601.1 698.2 L597.6 701.3 L594.2 703.5 L590.7 704.8 L587.2 705.2 L583.7 704.7 L580.2 703.4 L576.7 701.2 L573.2 698.2 L569.8 694.5 L568.1 692.4 L566.4 690.1 L564.7 687.6 L563.0 685.0 L561.4 682.3 L559.9 679.5 L558.3 676.6 L556.9 673.5 L555.4 670.4 L554.0 667.3 L552.6 664.0 L551.2 660.8 L549.8 657.6 L548.5 654.3 L547.1 651.1 L545.6 647.9 L544.1 644.8 L542.6 641.7 L541.0 638.7 L539.4 635.8 L537.7 632.9 L536.0 630.1 L534.2 627.4 L532.5 624.7 L530.6 622.1 L528.8 619.6 L526.9 617.1 L525.1 614.7 L523.2 612.4 L521.3 610.1 L519.4 607.9 L517.6 605.7 L515.7 603.6 L513.8 601.5 L512.0 599.5 L510.1 597.5 L508.3 595.5 L506.4 593.6 L504.6 591.7 L502.8 589.9 L501.0 588.1 L499.2 586.3 L495.6 582.9 L492.1 579.6 L488.6 576.4 L485.1 573.4 L481.6 570.5 L478.1 567.7 L474.6 565.1 L471.0 562.6 L467.5 560.2 L464.0 557.9 L460.5 555.7 L456.9 553.7 L453.4 551.7 L449.9 549.7 L446.3 547.9 L442.8 546.1 L439.3 544.3 L435.8 542.6 L432.3 540.9 L428.8 539.3 L425.3 537.8 L421.9 536.2 L418.4 534.8 L414.9 533.3 L411.4 532.0 L408.0 530.7 L404.5 529.4 L401.0 528.2 L397.5 527.0 L394.0 525.9 L390.6 524.8 L387.1 523.7 L383.6 522.7 L380.1 521.7 L376.6 520.8 L373.1 519.8 L369.6 518.9 L366.1 518.0 L362.7 517.1 L359.2 516.2 L355.7 515.3 L352.2 514.4 L348.8 513.5 L345.3 512.6 L341.9 511.7 L344.6 509.7 L348.0 508.5 L351.5 507.3 L354.9 506.1 L358.4 504.9 L361.8 503.7 L365.2 502.5 L368.6 501.3 L372.0 500.1 L375.5 499.0 L378.9 497.9 L382.3 496.7 L385.7 495.7 L389.1 494.6 L392.5 493.6 L395.9 492.6 L399.3 491.7 L402.7 490.8 L406.1 489.9 L409.6 489.1 L413.0 488.3 L416.5 487.6 L419.9 486.9 L423.4 486.3 L426.8 485.7 L430.3 485.2 L433.8 484.7 L437.3 484.2 L440.8 483.8 L444.2 483.4 L447.7 483.0 L451.2 482.6 L454.7 482.3 L458.2 481.9 L461.7 481.5 L465.2 481.1 L468.7 480.7 L472.2 480.3 L475.6 479.8 L479.1 479.4 L482.6 478.8 L486.0 478.3 L489.5 477.7 L492.9 477.0 L496.3 476.3 L499.7 475.5 L503.1 474.7 L506.5 473.9 L509.9 473.0 L513.3 472.1 L516.7 471.2 L520.1 470.2 L523.5 469.3 L527.0 468.3 L530.4 467.3 L533.8 466.3 L537.2 465.3 L540.6 464.2 L544.1 463.1 L547.5 462.0 L550.9 460.8 L554.4 459.5 L557.8 458.2 L561.2 456.9 L564.7 455.5 L568.1 454.0 L571.5 452.4 L574.9 450.8 L578.3 449.1 L581.6 447.3 L584.8 445.5 L587.9 443.6 L590.9 441.6 L594.0 439.4 L597.2 437.1 L600.6 434.5 L604.1 431.8 L607.6 429.0 L611.2 426.0 L614.9 422.8 L618.6 419.5 L620.5 417.8 L622.4 416.1 L624.3 414.3 L626.2 412.5 L628.2 410.6 L630.1 408.7 L632.0 406.7 L634.0 404.7 L636.0 402.7 L637.9 400.6 L639.9 398.4 L641.9 396.2 L643.9 393.9 L645.9 391.6 L647.9 389.2 L649.8 386.8 L651.8 384.3 L653.7 381.7 L655.6 379.0 L657.5 376.2 L659.4 373.4 L661.2 370.5 L663.0 367.5 L664.8 364.4 L666.5 361.3 L668.2 358.0 L669.9 354.7 L671.5 351.3 L673.1 347.8 L674.7 344.3 L676.3 340.7 L677.9 337.0 L679.5 333.3 L681.0 329.5 L682.6 325.7 L684.2 321.8 L685.8 317.9 L687.3 313.9 L689.0 309.9 L690.6 305.8 L692.2 301.7 L693.9 297.5 L695.5 293.4 L697.2 289.1 L698.9 284.9 L700.7 280.6 L702.5 276.3 L704.2 271.9 L706.0 267.5 L707.8 263.1 L709.6 258.6 L711.5 254.2 L713.3 249.7 L715.1 245.1 L716.9 240.6 L718.7 236.0 L720.5 231.4 L722.2 226.7 L723.9 222.0 L725.4 217.3 L727.0 212.5 L728.4 207.8 L729.9 203.0 L731.3 198.2 L732.7 193.4 L734.2 188.7 L735.6 184.0 L737.1 179.2 L738.6 174.6 L740.1 170.0 L741.7 165.4 L743.4 160.9 L745.1 156.4 L746.9 152.0 L748.7 147.7 L750.5 143.4 L752.4 139.3 L754.4 135.2 L756.3 131.1 L758.2 127.2 L760.2 123.3 L762.1 119.5 L764.0 115.8 L765.8 112.2 L767.7 108.6 L769.5 105.2 L771.3 101.9 L773.0 98.6 L774.7 95.5 L776.5 92.6 L778.2 89.7 L779.9 87.0 L781.6 84.5 L783.2 82.1 L784.9 79.9 L786.6 77.8 L788.3 75.9 L791.7 72.7 L795.1 70.1 L798.5 68.3 L802.0 67.3 L805.4 67.0 L808.9 67.5 L812.4 68.8 L816.0 70.8 L819.5 73.5 L823.2 76.8 L825.0 78.7 L826.9 80.7 L828.7 82.8 L830.6 85.1 L832.5 87.5 L834.4 89.9 L836.2 92.5 L838.1 95.1 L839.9 97.9 L841.8 100.7 L843.6 103.5 L845.3 106.4 L847.1 109.4 L848.8 112.4 L850.6 115.4 L852.3 118.4 L854.0 121.5 L855.7 124.5 L857.3 127.5 L859.0 130.4 L860.7 133.4 L862.4 136.2 L864.0 139.1 L865.7 141.9 L867.4 144.7 L869.1 147.4 L870.7 150.0 L872.4 152.6 L874.1 155.2 L875.8 157.7 L877.5 160.1 L879.1 162.5 L880.8 164.8 L882.5 167.0 L884.2 169.2 L885.9 171.4 L887.7 173.5 L889.4 175.5 L891.1 177.5 L892.9 179.4 L894.6 181.3 L896.3 183.1 L899.9 186.6 L903.4 189.9 L906.9 193.1 L910.4 196.1 L914.0 199.0 L917.5 201.7 L921.0 204.4 L924.5 206.9 L928.0 209.3 L931.5 211.7 L934.9 214.0 L938.4 216.2 L941.8 218.3 L945.3 220.4 L948.7 222.4 L952.1 224.4 L955.5 226.3 L958.9 228.1 L962.3 230.0 L965.7 231.7 L969.1 233.4 L972.5 235.1 L975.9 236.7 L979.3 238.3 L982.7 239.8 L986.1 241.3 L989.5 242.7 L992.9 244.1 L996.4 245.4 L999.8 246.7 L1003.2 247.9 L1006.7 249.0 L1010.1 250.1 L1013.6 251.2 L1017.1 252.2 L1020.5 253.2 L1024.0 254.2 L1027.5 255.1 L1031.0 256.0 L1032.7 256.4" fill="none" stroke="#000" stroke-width="3.5" stroke-linejoin="round" stroke-linecap="round"/></g>
<g><rect x="212.7" y="949.3" width="945.60" height="719.60" fill="none" stroke="#000" stroke-width="3.8"/><path d="M200.20 949.30H212.70M204.20 969.29H212.70M204.20 989.28H212.70M204.20 1009.27H212.70M200.20 1029.26H212.70M204.20 1049.24H212.70M204.20 1069.23H212.70M204.20 1089.22H212.70M200.20 1109.21H212.70M204.20 1129.20H212.70M204.20 1149.19H212.70M204.20 1169.18H212.70M200.20 1189.17H212.70M204.20 1209.16H212.70M204.20 1229.14H212.70M204.20 1249.13H212.70M200.20 1269.12H212.70M204.20 1289.11H212.70M204.20 1309.10H212.70M204.20 1329.09H212.70M200.20 1349.08H212.70M204.20 1369.07H212.70M204.20 1389.06H212.70M204.20 1409.04H212.70M200.20 1429.03H212.70M204.20 1449.02H212.70M204.20 1469.01H212.70M204.20 1489.00H212.70M200.20 1508.99H212.70M204.20 1528.98H212.70M204.20 1548.97H212.70M204.20 1568.96H212.70M200.20 1588.94H212.70M204.20 1608.93H212.70M204.20 1628.92H212.70M204.20 1648.91H212.70M200.20 1668.90H212.70M212.70 1668.90V1681.40M275.74 1668.90V1677.40M338.78 1668.90V1677.40M401.82 1668.90V1681.40M464.86 1668.90V1677.40M527.90 1668.90V1677.40M590.94 1668.90V1681.40M653.98 1668.90V1677.40M717.02 1668.90V1677.40M780.06 1668.90V1681.40M843.10 1668.90V1677.40M906.14 1668.90V1677.40M969.18 1668.90V1681.40M1032.22 1668.90V1677.40M1095.26 1668.90V1677.40M1158.30 1668.90V1681.40" stroke="#000" stroke-width="2.6" fill="none"/><text x="178.7" y="960.8" font-size="41" text-anchor="end">0.008</text><text x="178.7" y="1040.8" font-size="41" text-anchor="end">0.006</text><text x="178.7" y="1120.7" font-size="41" text-anchor="end">0.004</text><text x="178.7" y="1200.7" font-size="41" text-anchor="end">0.002</text><text x="178.7" y="1280.6" font-size="41" text-anchor="end">0.000</text><text x="178.7" y="1360.6" font-size="41" text-anchor="end">-0.002</text><text x="178.7" y="1440.5" font-size="41" text-anchor="end">-0.004</text><text x="178.7" y="1520.5" font-size="41" text-anchor="end">-0.006</text><text x="178.7" y="1600.4" font-size="41" text-anchor="end">-0.008</text><text x="178.7" y="1680.4" font-size="41" text-anchor="end">-0.010</text><text x="213.7" y="1729.4" font-size="41.5" text-anchor="middle">-2.0</text><text x="402.8" y="1729.4" font-size="41.5" text-anchor="middle">-1.7</text><text x="591.9" y="1729.4" font-size="41.5" text-anchor="middle">-1.4</text><text x="781.1" y="1729.4" font-size="41.5" text-anchor="middle">-1.1</text><text x="970.2" y="1729.4" font-size="41.5" text-anchor="middle">-0.8</text><text x="1159.3" y="1729.4" font-size="41.5" text-anchor="middle">-0.5</text><text x="477.0" y="1789.1" font-size="45.5" font-weight="bold">voltage (V) vs. Ag/Ag<tspan font-size="31" dx="2" dy="-13">+</tspan></text><text transform="translate(39,1310.7) rotate(-90)" font-size="45.5" font-weight="bold" text-anchor="middle">Coulomb &#xFB02;ux (A/cm<tspan font-size="29" dy="-13">2</tspan><tspan dy="13">)</tspan></text><text x="259.6" y="1030.3" font-size="45" style="font-family:'Liberation Serif',serif">(B)</text><path d="M1034.8 1268.5 L1031.2 1268.6 L1027.5 1268.6 L1023.9 1268.6 L1020.1 1268.6 L1016.4 1268.6 L1012.6 1268.6 L1008.8 1268.6 L1005.0 1268.5 L1001.2 1268.5 L997.4 1268.5 L993.7 1268.5 L990.0 1268.5 L986.3 1268.5 L982.7 1268.5 L979.1 1268.5 L975.5 1268.5 L972.0 1268.6 L968.4 1268.6 L964.9 1268.6 L961.4 1268.6 L957.9 1268.6 L954.4 1268.6 L951.0 1268.5 L947.5 1268.5 L944.0 1268.4 L940.5 1268.3 L937.1 1268.2 L933.6 1268.1 L930.1 1268.0 L926.7 1268.0 L923.2 1268.0 L919.7 1268.0 L916.3 1268.0 L912.8 1268.0 L909.4 1268.0 L905.9 1268.0 L902.4 1268.0 L899.0 1268.0 L895.5 1268.0 L892.0 1268.0 L888.6 1267.9 L885.1 1267.9 L881.7 1267.8 L878.2 1267.7 L874.7 1267.6 L871.2 1267.5 L867.8 1267.4 L864.3 1267.2 L860.8 1267.2 L857.4 1267.1 L853.9 1267.0 L850.4 1267.0 L846.9 1267.0 L843.4 1267.0 L839.9 1267.0 L836.3 1267.0 L832.7 1267.0 L829.1 1267.1 L825.5 1267.1 L821.8 1267.1 L818.0 1267.1 L814.2 1267.1 L810.4 1267.2 L806.6 1267.4 L802.8 1267.8 L799.1 1268.4 L795.4 1269.1 L791.7 1270.1 L788.1 1271.3 L784.5 1272.8 L781.0 1274.5 L777.5 1276.4 L774.0 1278.7 L770.5 1281.2 L767.1 1284.0 L763.7 1287.1 L760.3 1290.5 L757.0 1294.1 L755.4 1296.1 L753.7 1298.0 L752.1 1300.1 L750.5 1302.2 L748.9 1304.4 L747.3 1306.6 L745.7 1308.9 L744.1 1311.2 L742.6 1313.6 L741.0 1316.0 L739.5 1318.4 L737.9 1320.9 L736.4 1323.4 L734.8 1325.9 L733.3 1328.4 L731.8 1331.0 L730.3 1333.6 L728.9 1336.3 L727.4 1338.9 L726.0 1341.6 L724.6 1344.4 L723.2 1347.1 L721.8 1349.8 L720.4 1352.5 L719.0 1355.2 L717.6 1357.9 L716.1 1360.5 L714.6 1363.1 L713.0 1365.6 L711.3 1368.1 L709.7 1370.5 L708.0 1372.8 L706.2 1375.1 L704.5 1377.4 L702.7 1379.6 L700.9 1381.8 L699.2 1383.9 L697.4 1385.9 L695.6 1387.9 L693.8 1389.9 L692.1 1391.8 L690.3 1393.6 L686.8 1397.1 L683.3 1400.3 L679.8 1403.1 L676.3 1405.6 L672.8 1407.7 L669.3 1409.4 L665.8 1410.8 L662.2 1411.8 L658.7 1412.4 L655.1 1412.8 L651.5 1412.8 L648.0 1412.6 L644.4 1412.1 L640.8 1411.4 L637.3 1410.5 L633.7 1409.4 L630.2 1408.2 L626.7 1406.9 L623.2 1405.5 L619.7 1404.1 L616.2 1402.6 L612.7 1401.2 L609.3 1399.8 L605.9 1398.5 L602.4 1397.2 L599.0 1396.0 L595.6 1394.9 L592.2 1393.8 L588.7 1392.9 L585.3 1392.1 L581.9 1391.5 L578.4 1390.9 L574.9 1390.6 L571.4 1390.4 L567.9 1390.3 L564.4 1390.4 L560.9 1390.7 L557.3 1391.0 L553.8 1391.4 L550.2 1391.9 L546.7 1392.4 L543.2 1392.8 L539.6 1393.3 L536.1 1393.7 L532.6 1394.0 L529.1 1394.3 L525.6 1394.6 L522.1 1394.9 L518.6 1395.1 L515.1 1395.3 L511.6 1395.5 L508.1 1395.7 L504.6 1395.9 L501.2 1396.0 L497.7 1396.2 L494.2 1396.3 L490.7 1396.5 L487.3 1396.6 L483.8 1396.8 L480.3 1397.0 L476.8 1397.1 L473.4 1397.3 L469.9 1397.5 L466.4 1397.7 L463.0 1397.8 L459.5 1398.0 L456.0 1398.3 L452.6 1398.5 L449.1 1398.7 L445.6 1399.0 L442.2 1399.2 L438.7 1399.5 L435.2 1399.8 L431.7 1400.1 L428.3 1400.3 L424.8 1400.6 L421.3 1400.9 L417.9 1401.1 L414.4 1401.4 L410.9 1401.7 L407.5 1402.0 L404.0 1402.2 L400.5 1402.5 L397.1 1402.8 L393.6 1403.0 L390.1 1403.3 L386.7 1403.6 L383.2 1403.8 L379.7 1404.0 L376.3 1404.3 L372.8 1404.5 L369.3 1404.7 L365.9 1404.9 L362.4 1405.1 L358.9 1405.3 L355.5 1405.5 L352.0 1405.6 L348.5 1405.8 L345.1 1405.9 L341.6 1406.0 L343.6 1404.4 L347.1 1403.3 L350.6 1402.4 L354.1 1401.6 L357.6 1400.8 L361.1 1400.0 L364.6 1399.2 L368.1 1398.5 L371.6 1397.8 L375.0 1397.0 L378.5 1396.3 L382.0 1395.6 L385.4 1394.9 L388.9 1394.2 L392.3 1393.5 L395.8 1392.8 L399.2 1392.1 L402.6 1391.4 L406.1 1390.7 L409.5 1390.1 L412.9 1389.4 L416.3 1388.6 L419.7 1387.9 L423.2 1387.2 L426.6 1386.5 L430.0 1385.8 L433.4 1385.1 L436.8 1384.4 L440.3 1383.8 L443.7 1383.2 L447.2 1382.7 L450.6 1382.2 L454.1 1381.8 L457.5 1381.4 L461.0 1381.0 L464.4 1380.7 L467.9 1380.5 L471.4 1380.3 L474.9 1380.1 L478.4 1379.9 L481.8 1379.7 L485.3 1379.5 L488.8 1379.3 L492.3 1379.1 L495.8 1378.9 L499.3 1378.7 L502.7 1378.5 L506.2 1378.3 L509.7 1378.1 L513.2 1377.9 L516.7 1377.6 L520.1 1377.4 L523.6 1377.2 L527.1 1377.0 L530.6 1376.7 L534.1 1376.5 L537.5 1376.2 L541.0 1376.0 L544.5 1375.7 L548.0 1375.4 L551.4 1375.1 L554.9 1374.7 L558.4 1374.4 L561.9 1374.0 L565.3 1373.6 L568.8 1373.1 L572.2 1372.6 L575.7 1372.1 L579.1 1371.5 L582.6 1370.9 L586.0 1370.2 L589.4 1369.5 L592.8 1368.8 L596.2 1368.0 L599.6 1367.2 L603.0 1366.4 L606.3 1365.5 L609.7 1364.5 L613.0 1363.6 L616.3 1362.6 L619.6 1361.5 L622.9 1360.4 L626.2 1359.2 L629.4 1358.0 L632.7 1356.8 L635.9 1355.4 L639.1 1354.0 L642.3 1352.5 L645.5 1351.0 L648.7 1349.3 L651.8 1347.5 L655.0 1345.5 L658.2 1343.4 L661.3 1341.1 L664.5 1338.6 L667.7 1335.9 L670.9 1333.0 L674.1 1329.9 L677.4 1326.6 L680.8 1323.1 L682.6 1321.3 L684.4 1319.5 L686.2 1317.6 L688.1 1315.7 L690.0 1313.7 L692.0 1311.7 L694.0 1309.7 L696.1 1307.7 L698.3 1305.6 L700.4 1303.6 L702.7 1301.4 L704.9 1299.3 L707.1 1297.1 L709.4 1294.8 L711.6 1292.5 L713.8 1290.1 L716.0 1287.7 L718.1 1285.2 L720.2 1282.6 L722.1 1279.9 L724.1 1277.2 L725.9 1274.4 L727.7 1271.5 L729.5 1268.7 L731.2 1265.8 L732.8 1262.9 L734.5 1260.0 L736.1 1257.2 L737.7 1254.4 L739.4 1251.7 L741.0 1249.0 L742.8 1246.5 L744.5 1244.0 L746.3 1241.6 L748.1 1239.3 L749.9 1237.1 L751.7 1235.0 L753.6 1232.9 L755.5 1230.9 L757.3 1229.0 L759.2 1227.2 L761.1 1225.4 L762.9 1223.7 L766.6 1220.6 L770.3 1217.9 L773.9 1215.8 L777.5 1214.2 L781.0 1213.2 L784.6 1212.9 L788.1 1213.2 L791.6 1214.0 L795.1 1215.3 L798.6 1216.9 L802.1 1218.8 L805.5 1220.9 L808.9 1223.2 L812.2 1225.5 L815.5 1227.9 L818.7 1230.3 L821.9 1232.7 L825.0 1235.1 L828.1 1237.3 L831.2 1239.5 L834.3 1241.6 L837.4 1243.6 L840.6 1245.5 L843.7 1247.2 L846.9 1248.8 L850.2 1250.3 L853.5 1251.7 L856.8 1252.9 L860.1 1254.0 L863.5 1255.0 L866.9 1255.9 L870.4 1256.7 L873.9 1257.4 L877.3 1258.0 L880.8 1258.6 L884.3 1259.2 L887.9 1259.7 L891.4 1260.1 L894.9 1260.6 L898.4 1260.9 L901.9 1261.3 L905.4 1261.7 L908.9 1262.0 L912.4 1262.3 L915.9 1262.6 L919.4 1262.9 L922.9 1263.2 L926.3 1263.4 L929.8 1263.7 L933.3 1263.9 L936.8 1264.1 L940.3 1264.3 L943.7 1264.5 L947.2 1264.7 L950.7 1264.8 L954.2 1265.0 L957.7 1265.1 L961.1 1265.3 L964.6 1265.4 L968.1 1265.6 L971.5 1265.7 L975.0 1265.8 L978.5 1265.9 L981.9 1266.1 L985.4 1266.2 L988.9 1266.3 L992.3 1266.4 L995.8 1266.4 L999.3 1266.5 L1002.7 1266.6 L1006.2 1266.6 L1009.7 1266.7 L1013.1 1266.7 L1016.6 1266.8 L1020.1 1266.8 L1023.5 1266.9 L1027.0 1266.9 L1030.4 1267.0 L1032.2 1267.0" fill="none" stroke="#000" stroke-width="3.5" stroke-linejoin="round" stroke-linecap="round"/><path d="M1034.8 1264.5 L1031.2 1264.7 L1027.6 1264.8 L1023.9 1264.9 L1020.2 1265.0 L1016.5 1265.0 L1012.7 1265.0 L1008.9 1264.9 L1005.1 1264.9 L1001.4 1264.9 L997.6 1264.8 L993.9 1264.8 L990.2 1264.8 L986.5 1264.9 L982.9 1264.9 L979.3 1265.0 L975.8 1265.1 L972.2 1265.2 L968.7 1265.3 L965.2 1265.4 L961.7 1265.5 L958.2 1265.5 L954.7 1265.5 L951.2 1265.5 L947.7 1265.4 L944.2 1265.3 L940.7 1265.1 L937.2 1264.9 L933.7 1264.8 L930.3 1264.7 L926.8 1264.6 L923.3 1264.6 L919.8 1264.6 L916.4 1264.7 L912.9 1264.8 L909.4 1264.8 L906.0 1264.9 L902.5 1265.0 L899.0 1265.0 L895.6 1265.0 L892.1 1265.0 L888.6 1264.9 L885.2 1264.8 L881.7 1264.7 L878.2 1264.4 L874.7 1264.2 L871.2 1263.9 L867.7 1263.6 L864.3 1263.3 L860.8 1263.1 L857.3 1262.9 L853.8 1262.8 L850.3 1262.8 L846.8 1262.8 L843.3 1262.9 L839.8 1263.0 L836.3 1263.2 L832.8 1263.4 L829.2 1263.6 L825.6 1263.9 L822.0 1264.2 L818.4 1264.5 L814.8 1264.9 L811.1 1265.4 L807.4 1265.9 L803.8 1266.6 L800.2 1267.4 L796.6 1268.4 L793.1 1269.5 L789.6 1270.7 L786.2 1272.2 L782.7 1273.8 L779.3 1275.6 L775.9 1277.6 L772.6 1279.9 L769.2 1282.3 L765.9 1285.1 L762.6 1288.1 L759.3 1291.4 L756.1 1295.0 L754.5 1296.9 L752.8 1298.9 L751.2 1301.0 L749.6 1303.1 L748.0 1305.3 L746.4 1307.6 L744.8 1310.0 L743.1 1312.4 L741.5 1315.0 L739.9 1317.6 L738.3 1320.2 L736.6 1323.0 L735.0 1325.8 L733.3 1328.7 L731.7 1331.6 L730.0 1334.6 L728.3 1337.7 L726.7 1340.9 L725.0 1344.1 L723.3 1347.4 L721.6 1350.7 L719.9 1354.1 L718.2 1357.6 L716.6 1361.1 L714.9 1364.6 L713.2 1368.2 L711.6 1371.9 L709.9 1375.5 L708.3 1379.2 L706.7 1382.9 L705.1 1386.6 L703.5 1390.2 L701.9 1393.9 L700.2 1397.5 L698.6 1401.0 L696.8 1404.5 L695.1 1407.9 L693.2 1411.1 L691.4 1414.3 L689.5 1417.4 L687.5 1420.4 L685.6 1423.3 L683.6 1426.1 L681.6 1428.7 L679.6 1431.3 L677.6 1433.8 L675.7 1436.2 L673.8 1438.4 L671.9 1440.6 L670.0 1442.6 L668.2 1444.6 L666.4 1446.4 L662.8 1449.6 L659.2 1452.4 L655.8 1454.5 L652.3 1456.2 L648.9 1457.3 L645.4 1458.0 L642.0 1458.3 L638.6 1458.1 L635.2 1457.6 L631.9 1456.8 L628.5 1455.7 L625.1 1454.4 L621.8 1452.8 L618.5 1451.0 L615.2 1449.1 L611.9 1447.0 L608.7 1444.9 L605.5 1442.6 L602.2 1440.4 L599.0 1438.1 L595.8 1435.8 L592.6 1433.5 L589.4 1431.2 L586.2 1429.0 L583.0 1426.9 L579.7 1424.8 L576.4 1422.8 L573.2 1420.9 L569.8 1419.1 L566.5 1417.4 L563.1 1415.7 L559.7 1414.2 L556.3 1412.8 L552.9 1411.5 L549.4 1410.4 L545.9 1409.4 L542.4 1408.5 L538.8 1407.8 L535.3 1407.2 L531.6 1406.8 L528.0 1406.6 L524.3 1406.5 L520.6 1406.6 L517.0 1406.7 L513.3 1406.9 L509.6 1407.2 L505.9 1407.4 L502.2 1407.7 L498.5 1407.9 L494.9 1408.1 L491.3 1408.2 L487.7 1408.3 L484.1 1408.4 L480.5 1408.5 L476.9 1408.5 L473.3 1408.6 L469.8 1408.6 L466.2 1408.6 L462.7 1408.6 L459.2 1408.6 L455.7 1408.6 L452.1 1408.6 L448.6 1408.7 L445.1 1408.7 L441.6 1408.7 L438.1 1408.8 L434.6 1408.8 L431.1 1408.9 L427.6 1408.9 L424.2 1408.9 L420.7 1409.0 L417.2 1409.0 L413.7 1409.0 L410.2 1409.0 L406.8 1409.0 L403.3 1409.0 L399.8 1409.0 L396.3 1409.0 L392.9 1409.0 L389.4 1409.0 L385.9 1409.0 L382.5 1409.0 L379.0 1409.0 L375.5 1409.1 L372.1 1409.1 L368.6 1409.1 L365.1 1409.1 L361.7 1409.1 L358.2 1409.1 L354.7 1409.1 L351.3 1409.1 L347.8 1409.1 L344.4 1409.1 L340.9 1409.0 L343.5 1407.8 L347.0 1407.1 L350.5 1406.4 L354.0 1405.7 L357.5 1405.0 L360.9 1404.2 L364.4 1403.4 L367.9 1402.6 L371.4 1401.9 L374.8 1401.1 L378.3 1400.3 L381.8 1399.6 L385.2 1398.9 L388.7 1398.2 L392.1 1397.5 L395.5 1396.8 L399.0 1396.2 L402.4 1395.6 L405.9 1395.0 L409.3 1394.5 L412.8 1394.0 L416.2 1393.5 L419.7 1393.1 L423.1 1392.7 L426.6 1392.3 L430.0 1391.9 L433.5 1391.5 L436.9 1391.2 L440.4 1390.8 L443.9 1390.5 L447.3 1390.2 L450.8 1389.9 L454.2 1389.6 L457.7 1389.2 L461.2 1388.9 L464.6 1388.6 L468.1 1388.2 L471.5 1387.9 L475.0 1387.5 L478.4 1387.1 L481.9 1386.7 L485.3 1386.2 L488.8 1385.8 L492.2 1385.4 L495.6 1384.9 L499.1 1384.5 L502.5 1384.0 L506.0 1383.6 L509.4 1383.2 L512.8 1382.8 L516.3 1382.4 L519.7 1382.0 L523.1 1381.6 L526.6 1381.3 L530.0 1381.0 L533.5 1380.6 L536.9 1380.3 L540.3 1380.0 L543.8 1379.7 L547.2 1379.5 L550.6 1379.1 L554.1 1378.8 L557.5 1378.5 L560.9 1378.1 L564.3 1377.7 L567.7 1377.2 L571.1 1376.7 L574.5 1376.2 L577.8 1375.6 L581.2 1374.9 L584.5 1374.2 L587.8 1373.4 L591.1 1372.5 L594.4 1371.6 L597.7 1370.6 L600.9 1369.5 L604.2 1368.4 L607.4 1367.2 L610.6 1365.9 L613.9 1364.6 L617.1 1363.2 L620.4 1361.8 L623.7 1360.3 L627.1 1358.8 L630.5 1357.3 L633.9 1355.7 L637.3 1354.0 L640.8 1352.2 L644.3 1350.3 L647.9 1348.3 L651.4 1346.2 L655.0 1343.9 L658.5 1341.5 L662.1 1338.9 L665.6 1336.1 L669.1 1333.1 L672.7 1329.9 L676.2 1326.5 L679.8 1323.0 L681.6 1321.2 L683.4 1319.3 L685.2 1317.4 L687.0 1315.5 L688.9 1313.5 L690.8 1311.6 L692.7 1309.6 L694.6 1307.5 L696.5 1305.5 L698.5 1303.4 L700.5 1301.3 L702.5 1299.2 L704.5 1297.0 L706.5 1294.8 L708.5 1292.5 L710.4 1290.3 L712.4 1287.9 L714.4 1285.5 L716.3 1283.1 L718.2 1280.6 L720.1 1278.0 L721.9 1275.4 L723.7 1272.7 L725.5 1270.0 L727.2 1267.2 L728.9 1264.4 L730.5 1261.5 L732.1 1258.6 L733.7 1255.7 L735.3 1252.7 L736.9 1249.7 L738.4 1246.7 L740.0 1243.7 L741.6 1240.7 L743.1 1237.7 L744.7 1234.7 L746.3 1231.8 L748.0 1228.8 L749.7 1226.0 L751.3 1223.1 L753.0 1220.3 L754.8 1217.6 L756.5 1214.9 L758.3 1212.2 L760.1 1209.7 L761.8 1207.2 L763.6 1204.7 L765.4 1202.4 L767.2 1200.1 L769.0 1197.9 L770.8 1195.8 L772.6 1193.7 L774.4 1191.8 L776.2 1190.0 L779.7 1186.6 L783.3 1183.8 L786.8 1181.4 L790.3 1179.5 L793.8 1178.1 L797.3 1177.3 L800.8 1177.0 L804.3 1177.1 L807.8 1177.8 L811.3 1178.8 L814.9 1180.2 L818.4 1181.9 L821.9 1183.9 L825.5 1186.1 L829.1 1188.4 L832.6 1190.8 L836.2 1193.3 L839.8 1195.8 L843.4 1198.3 L846.9 1200.8 L850.4 1203.3 L854.0 1205.7 L857.5 1208.0 L860.9 1210.3 L864.4 1212.5 L867.8 1214.6 L871.3 1216.6 L874.7 1218.6 L878.1 1220.5 L881.5 1222.3 L884.9 1224.1 L888.3 1225.8 L891.6 1227.6 L894.9 1229.3 L898.2 1231.1 L901.5 1232.9 L904.7 1234.7 L907.9 1236.5 L911.1 1238.4 L914.2 1240.2 L917.4 1242.1 L920.5 1244.0 L923.7 1245.8 L926.8 1247.6 L930.0 1249.3 L933.2 1250.9 L936.5 1252.3 L939.8 1253.7 L943.1 1254.9 L946.5 1256.0 L949.9 1257.0 L953.4 1257.8 L956.9 1258.5 L960.5 1259.0 L964.1 1259.4 L967.7 1259.7 L971.4 1259.9 L975.0 1260.1 L978.7 1260.2 L982.3 1260.3 L985.9 1260.4 L989.5 1260.6 L993.1 1260.7 L996.6 1260.9 L1000.2 1261.1 L1003.7 1261.3 L1007.2 1261.5 L1010.7 1261.7 L1014.2 1262.0 L1017.7 1262.2 L1021.2 1262.4 L1024.6 1262.6 L1028.1 1262.9 L1031.6 1263.1" fill="none" stroke="#000" stroke-width="3.5" stroke-linejoin="round" stroke-linecap="round"/><path d="M1034.5 1242.5 L1030.7 1243.2 L1027.0 1243.9 L1023.2 1244.5 L1019.5 1245.2 L1015.8 1245.8 L1012.0 1246.5 L1008.3 1247.1 L1004.6 1247.7 L1000.9 1248.3 L997.3 1248.9 L993.6 1249.5 L990.0 1250.1 L986.4 1250.6 L982.9 1251.2 L979.3 1251.7 L975.8 1252.2 L972.3 1252.7 L968.8 1253.2 L965.3 1253.7 L961.8 1254.2 L958.4 1254.7 L954.9 1255.1 L951.4 1255.5 L948.0 1255.9 L944.5 1256.3 L941.0 1256.7 L937.6 1257.0 L934.1 1257.3 L930.7 1257.6 L927.2 1257.9 L923.7 1258.1 L920.3 1258.3 L916.8 1258.5 L913.3 1258.6 L909.8 1258.7 L906.3 1258.8 L902.9 1258.9 L899.4 1259.0 L895.9 1259.1 L892.4 1259.2 L889.0 1259.4 L885.5 1259.6 L882.0 1259.8 L878.6 1260.0 L875.1 1260.3 L871.6 1260.6 L868.2 1260.8 L864.7 1261.1 L861.2 1261.5 L857.8 1261.8 L854.3 1262.1 L850.8 1262.4 L847.3 1262.6 L843.8 1262.8 L840.2 1262.8 L836.5 1262.8 L832.9 1262.5 L829.1 1262.2 L825.4 1261.9 L821.7 1261.8 L818.0 1261.9 L814.4 1262.2 L810.9 1262.8 L807.4 1263.6 L803.9 1264.5 L800.4 1265.5 L797.0 1266.7 L793.5 1268.0 L790.1 1269.4 L786.7 1270.9 L783.2 1272.7 L779.8 1274.6 L776.4 1276.6 L773.0 1278.9 L769.7 1281.4 L766.3 1284.2 L763.0 1287.2 L759.7 1290.4 L756.4 1294.0 L753.1 1297.8 L751.5 1299.8 L749.9 1301.9 L748.3 1304.1 L746.6 1306.4 L745.0 1308.7 L743.4 1311.1 L741.8 1313.6 L740.1 1316.2 L738.5 1318.8 L736.9 1321.6 L735.2 1324.4 L733.6 1327.2 L731.9 1330.2 L730.2 1333.2 L728.5 1336.4 L726.8 1339.5 L725.1 1342.8 L723.4 1346.2 L721.7 1349.6 L719.9 1353.1 L718.2 1356.6 L716.4 1360.3 L714.6 1364.0 L712.9 1367.8 L711.0 1371.6 L709.2 1375.5 L707.4 1379.4 L705.6 1383.4 L703.7 1387.5 L701.9 1391.6 L700.0 1395.7 L698.2 1399.9 L696.4 1404.1 L694.6 1408.4 L692.8 1412.6 L691.0 1416.9 L689.3 1421.2 L687.5 1425.4 L685.8 1429.7 L684.1 1434.0 L682.4 1438.2 L680.8 1442.4 L679.2 1446.6 L677.6 1450.7 L676.0 1454.7 L674.4 1458.6 L672.7 1462.4 L670.9 1466.1 L669.1 1469.6 L667.2 1473.0 L665.4 1476.4 L663.5 1479.5 L661.6 1482.6 L659.8 1485.5 L657.9 1488.3 L656.1 1491.0 L654.3 1493.5 L652.5 1495.9 L650.7 1498.1 L648.9 1500.2 L647.1 1502.1 L643.5 1505.4 L639.9 1508.0 L636.4 1510.0 L632.9 1511.3 L629.3 1511.9 L625.8 1511.9 L622.3 1511.4 L618.8 1510.4 L615.3 1509.0 L611.8 1507.2 L608.3 1505.0 L604.8 1502.6 L601.4 1500.0 L598.0 1497.1 L594.7 1494.0 L591.5 1490.8 L588.3 1487.5 L585.2 1484.1 L582.1 1480.7 L579.1 1477.3 L576.0 1474.0 L573.0 1470.8 L569.9 1467.7 L566.7 1464.7 L563.5 1461.8 L560.3 1459.1 L557.0 1456.6 L553.7 1454.1 L550.3 1451.8 L547.0 1449.6 L543.6 1447.5 L540.2 1445.5 L536.8 1443.6 L533.4 1441.8 L530.0 1440.0 L526.6 1438.4 L523.1 1436.8 L519.7 1435.3 L516.3 1433.9 L512.8 1432.5 L509.3 1431.2 L505.9 1430.0 L502.4 1428.8 L498.9 1427.8 L495.4 1426.8 L491.8 1425.9 L488.2 1425.1 L484.6 1424.4 L480.9 1423.9 L477.1 1423.5 L473.3 1423.3 L469.5 1423.1 L465.7 1422.9 L461.9 1422.6 L458.2 1422.3 L454.6 1421.9 L451.0 1421.4 L447.4 1420.8 L443.9 1420.2 L440.4 1419.6 L436.9 1419.0 L433.5 1418.5 L430.0 1418.1 L426.5 1417.7 L423.0 1417.5 L419.5 1417.4 L415.9 1417.5 L412.4 1417.6 L408.9 1417.7 L405.3 1417.8 L401.8 1417.8 L398.3 1417.7 L394.8 1417.6 L391.3 1417.4 L387.8 1417.1 L384.4 1416.8 L380.9 1416.5 L377.4 1416.1 L374.0 1415.7 L370.5 1415.4 L367.0 1415.0 L363.6 1414.6 L360.1 1414.2 L356.6 1413.8 L353.2 1413.4 L349.7 1413.0 L346.2 1412.7 L342.8 1412.3 L339.3 1411.9 L343.5 1411.2 L347.0 1410.5 L350.5 1409.9 L354.0 1409.2 L357.4 1408.5 L360.9 1407.8 L364.4 1407.1 L367.8 1406.5 L371.3 1405.8 L374.8 1405.1 L378.2 1404.5 L381.7 1403.9 L385.1 1403.3 L388.6 1402.7 L392.0 1402.1 L395.5 1401.6 L398.9 1401.2 L402.4 1400.7 L405.9 1400.3 L409.3 1400.0 L412.8 1399.6 L416.2 1399.3 L419.7 1399.0 L423.2 1398.8 L426.6 1398.5 L430.1 1398.3 L433.6 1398.1 L437.0 1397.8 L440.5 1397.6 L443.9 1397.3 L447.4 1397.0 L450.9 1396.7 L454.3 1396.4 L457.8 1396.0 L461.2 1395.6 L464.7 1395.2 L468.1 1394.8 L471.5 1394.3 L475.0 1393.8 L478.4 1393.3 L481.9 1392.9 L485.3 1392.4 L488.7 1391.9 L492.2 1391.4 L495.6 1390.9 L499.1 1390.4 L502.5 1390.0 L505.9 1389.5 L509.4 1389.0 L512.8 1388.6 L516.2 1388.1 L519.7 1387.6 L523.1 1387.2 L526.5 1386.8 L530.0 1386.3 L533.4 1385.9 L536.9 1385.5 L540.3 1385.1 L543.7 1384.6 L547.2 1384.2 L550.6 1383.8 L554.1 1383.4 L557.5 1382.9 L561.0 1382.5 L564.4 1382.0 L567.8 1381.4 L571.3 1380.8 L574.7 1380.2 L578.1 1379.5 L581.5 1378.7 L584.9 1377.8 L588.3 1376.8 L591.6 1375.8 L594.9 1374.6 L598.2 1373.3 L601.5 1371.9 L604.8 1370.3 L608.1 1368.7 L611.4 1367.0 L614.7 1365.2 L618.0 1363.4 L621.4 1361.5 L624.9 1359.6 L628.4 1357.7 L632.0 1355.7 L635.7 1353.8 L639.4 1351.7 L643.2 1349.6 L647.0 1347.5 L650.8 1345.2 L654.6 1342.7 L658.4 1340.2 L662.2 1337.4 L666.0 1334.5 L669.7 1331.4 L673.4 1328.1 L675.2 1326.4 L677.0 1324.6 L678.8 1322.8 L680.6 1321.0 L682.4 1319.1 L684.2 1317.2 L685.9 1315.2 L687.7 1313.2 L689.4 1311.2 L691.1 1309.1 L692.8 1307.0 L694.5 1304.8 L696.2 1302.6 L697.9 1300.4 L699.6 1298.2 L701.3 1295.9 L702.9 1293.6 L704.6 1291.3 L706.2 1288.9 L707.9 1286.5 L709.5 1284.1 L711.1 1281.6 L712.7 1279.1 L714.3 1276.6 L715.9 1274.1 L717.5 1271.5 L719.1 1268.9 L720.6 1266.3 L722.2 1263.6 L723.7 1260.9 L725.2 1258.2 L726.8 1255.5 L728.3 1252.7 L729.8 1249.9 L731.3 1247.1 L732.8 1244.3 L734.4 1241.5 L735.9 1238.6 L737.4 1235.7 L738.9 1232.8 L740.5 1230.0 L742.0 1227.1 L743.6 1224.1 L745.2 1221.2 L746.8 1218.3 L748.4 1215.4 L750.0 1212.5 L751.7 1209.7 L753.5 1206.8 L755.3 1204.0 L757.1 1201.2 L759.1 1198.5 L761.0 1195.8 L763.0 1193.2 L764.9 1190.5 L766.9 1187.9 L768.8 1185.4 L770.6 1182.8 L772.5 1180.3 L774.3 1177.8 L776.2 1175.4 L778.0 1173.1 L779.8 1170.8 L781.6 1168.6 L783.5 1166.4 L785.3 1164.4 L787.1 1162.4 L789.0 1160.5 L790.8 1158.7 L792.6 1157.0 L796.3 1153.8 L799.9 1151.1 L803.6 1148.7 L807.2 1146.8 L810.8 1145.4 L814.4 1144.4 L818.0 1143.9 L821.6 1143.9 L825.2 1144.4 L828.8 1145.2 L832.5 1146.5 L836.1 1148.1 L839.7 1150.0 L843.4 1152.1 L847.0 1154.5 L850.7 1157.1 L854.3 1159.9 L858.0 1162.7 L861.6 1165.7 L865.1 1168.7 L868.7 1171.8 L872.2 1174.9 L875.6 1177.9 L879.0 1180.9 L882.4 1183.9 L885.7 1186.7 L889.0 1189.5 L892.4 1192.2 L895.7 1194.7 L899.0 1197.2 L902.3 1199.5 L905.6 1201.7 L909.0 1203.9 L912.3 1205.9 L915.7 1207.9 L919.0 1209.7 L922.4 1211.6 L925.8 1213.3 L929.1 1215.0 L932.5 1216.7 L935.8 1218.3 L939.2 1219.8 L942.5 1221.3 L945.9 1222.8 L949.3 1224.2 L952.6 1225.5 L956.0 1226.8 L959.4 1228.0 L962.8 1229.1 L966.2 1230.2 L969.6 1231.3 L973.1 1232.3 L976.5 1233.2 L979.9 1234.2 L983.4 1235.1 L986.8 1235.9 L990.3 1236.8 L993.7 1237.6 L997.2 1238.4 L1000.6 1239.1 L1004.1 1239.9 L1007.5 1240.6 L1011.0 1241.2 L1014.5 1241.9 L1017.9 1242.5 L1021.4 1243.1 L1024.8 1243.7 L1028.3 1244.2 L1031.8 1244.7" fill="none" stroke="#000" stroke-width="3.5" stroke-linejoin="round" stroke-linecap="round"/><path d="M1034.4 1227.7 L1030.7 1228.6 L1026.9 1229.4 L1023.1 1230.3 L1019.4 1231.1 L1015.6 1232.0 L1011.9 1232.8 L1008.2 1233.7 L1004.5 1234.5 L1000.8 1235.3 L997.1 1236.1 L993.5 1237.0 L989.9 1237.8 L986.3 1238.5 L982.8 1239.3 L979.3 1240.0 L975.8 1240.7 L972.3 1241.4 L968.8 1242.0 L965.3 1242.6 L961.8 1243.1 L958.4 1243.7 L954.9 1244.1 L951.4 1244.6 L947.9 1245.0 L944.5 1245.4 L941.0 1245.8 L937.5 1246.2 L934.0 1246.5 L930.6 1246.9 L927.1 1247.2 L923.6 1247.5 L920.1 1247.8 L916.7 1248.1 L913.2 1248.4 L909.7 1248.7 L906.2 1249.0 L902.7 1249.3 L899.3 1249.7 L895.8 1250.0 L892.3 1250.4 L888.9 1250.8 L885.4 1251.2 L881.9 1251.6 L878.5 1252.0 L875.0 1252.5 L871.5 1253.0 L868.1 1253.5 L864.6 1254.0 L861.1 1254.5 L857.7 1255.0 L854.2 1255.5 L850.7 1256.1 L847.3 1256.6 L843.8 1257.1 L840.2 1257.6 L836.7 1258.0 L833.1 1258.4 L829.5 1258.8 L825.9 1259.1 L822.3 1259.6 L818.7 1260.2 L815.2 1261.0 L811.6 1261.9 L808.1 1262.9 L804.6 1264.0 L801.1 1265.3 L797.7 1266.6 L794.2 1268.1 L790.7 1269.6 L787.2 1271.4 L783.8 1273.2 L780.3 1275.3 L776.9 1277.5 L773.4 1279.9 L770.0 1282.5 L766.6 1285.4 L763.2 1288.4 L759.9 1291.8 L756.5 1295.4 L754.9 1297.4 L753.2 1299.4 L751.6 1301.5 L749.9 1303.6 L748.3 1305.8 L746.6 1308.1 L745.0 1310.5 L743.3 1313.0 L741.7 1315.6 L740.1 1318.2 L738.4 1320.9 L736.7 1323.7 L735.1 1326.5 L733.4 1329.5 L731.7 1332.5 L730.0 1335.6 L728.3 1338.8 L726.6 1342.1 L724.9 1345.4 L723.2 1348.8 L721.4 1352.3 L719.7 1355.9 L717.9 1359.6 L716.1 1363.3 L714.3 1367.1 L712.4 1371.0 L710.6 1374.9 L708.7 1378.9 L706.9 1383.0 L705.0 1387.1 L703.1 1391.3 L701.2 1395.5 L699.3 1399.8 L697.4 1404.2 L695.6 1408.6 L693.7 1413.0 L691.9 1417.5 L690.1 1421.9 L688.3 1426.5 L686.5 1431.0 L684.7 1435.5 L683.0 1440.0 L681.3 1444.6 L679.7 1449.1 L678.2 1453.7 L676.8 1458.3 L675.5 1462.8 L674.2 1467.3 L672.7 1471.6 L671.1 1475.8 L669.3 1479.8 L667.5 1483.7 L665.6 1487.4 L663.7 1491.1 L661.8 1494.6 L659.9 1498.0 L658.0 1501.3 L656.1 1504.4 L654.1 1507.5 L652.3 1510.3 L650.4 1513.1 L648.5 1515.7 L646.6 1518.2 L644.8 1520.5 L642.9 1522.7 L641.1 1524.6 L639.3 1526.5 L635.7 1529.6 L632.1 1532.0 L628.6 1533.7 L625.0 1534.7 L621.5 1535.0 L618.0 1534.7 L614.5 1533.8 L610.9 1532.4 L607.4 1530.6 L604.0 1528.3 L600.5 1525.7 L597.1 1522.8 L593.8 1519.6 L590.5 1516.2 L587.3 1512.7 L584.1 1509.0 L581.0 1505.2 L577.9 1501.4 L574.8 1497.6 L571.8 1493.9 L568.7 1490.2 L565.7 1486.7 L562.6 1483.2 L559.6 1479.8 L556.5 1476.5 L553.4 1473.4 L550.3 1470.4 L547.2 1467.5 L544.1 1464.7 L540.9 1462.1 L537.8 1459.5 L534.5 1457.1 L531.3 1454.8 L528.0 1452.6 L524.8 1450.5 L521.4 1448.5 L518.1 1446.5 L514.7 1444.5 L511.2 1442.5 L507.7 1440.5 L504.0 1438.4 L500.3 1436.3 L496.5 1434.3 L492.8 1432.4 L489.1 1430.7 L485.5 1429.2 L481.9 1427.8 L478.4 1426.6 L474.8 1425.6 L471.3 1424.6 L467.8 1423.7 L464.3 1422.9 L460.7 1422.1 L457.2 1421.4 L453.6 1420.8 L450.0 1420.2 L446.5 1419.8 L442.9 1419.3 L439.3 1418.9 L435.7 1418.6 L432.0 1418.4 L428.4 1418.1 L424.8 1418.0 L421.1 1417.8 L417.5 1417.8 L413.9 1417.7 L410.2 1417.7 L406.6 1417.8 L402.9 1417.9 L399.3 1418.1 L395.7 1418.4 L392.0 1418.7 L388.4 1419.1 L384.8 1419.5 L381.2 1419.9 L377.6 1420.4 L374.1 1420.8 L370.5 1421.3 L367.0 1421.7 L363.4 1422.1 L359.9 1422.5 L356.4 1422.8 L352.8 1423.1 L349.3 1423.3 L345.8 1423.5 L342.3 1423.6 L338.8 1423.7 L341.5 1422.9 L345.0 1422.0 L348.5 1421.0 L351.9 1420.1 L355.4 1419.1 L358.9 1418.1 L362.4 1417.1 L365.9 1416.1 L369.3 1415.2 L372.8 1414.2 L376.3 1413.3 L379.7 1412.4 L383.2 1411.5 L386.7 1410.7 L390.1 1409.9 L393.6 1409.3 L397.1 1408.6 L400.5 1408.1 L404.0 1407.5 L407.5 1407.1 L411.0 1406.7 L414.5 1406.3 L417.9 1405.9 L421.4 1405.6 L424.9 1405.3 L428.4 1405.0 L431.8 1404.7 L435.3 1404.4 L438.8 1404.1 L442.2 1403.8 L445.7 1403.5 L449.2 1403.3 L452.6 1403.0 L456.1 1402.6 L459.6 1402.3 L463.0 1402.0 L466.5 1401.6 L469.9 1401.2 L473.4 1400.8 L476.8 1400.3 L480.3 1399.8 L483.7 1399.2 L487.1 1398.6 L490.5 1398.0 L494.0 1397.3 L497.4 1396.6 L500.8 1396.0 L504.2 1395.3 L507.6 1394.6 L511.0 1393.9 L514.4 1393.3 L517.8 1392.6 L521.2 1392.0 L524.7 1391.3 L528.1 1390.7 L531.5 1390.1 L534.9 1389.5 L538.3 1388.9 L541.8 1388.4 L545.2 1387.8 L548.6 1387.3 L552.1 1386.7 L555.5 1386.2 L559.0 1385.6 L562.5 1385.1 L565.9 1384.5 L569.4 1383.9 L572.9 1383.3 L576.3 1382.6 L579.8 1381.8 L583.2 1381.0 L586.7 1380.1 L590.1 1379.0 L593.4 1377.9 L596.7 1376.6 L600.0 1375.1 L603.3 1373.4 L606.5 1371.6 L609.7 1369.7 L612.9 1367.6 L616.1 1365.4 L619.4 1363.1 L622.7 1360.8 L626.2 1358.5 L629.7 1356.3 L633.4 1354.1 L637.2 1351.8 L641.1 1349.6 L645.0 1347.3 L649.0 1344.9 L653.0 1342.4 L657.0 1339.8 L660.9 1337.0 L664.8 1334.1 L668.7 1330.9 L670.6 1329.2 L672.5 1327.5 L674.4 1325.8 L676.3 1324.0 L678.2 1322.1 L680.0 1320.2 L681.8 1318.3 L683.7 1316.3 L685.5 1314.3 L687.2 1312.2 L689.0 1310.1 L690.8 1308.0 L692.5 1305.8 L694.3 1303.6 L696.0 1301.3 L697.7 1299.1 L699.4 1296.8 L701.1 1294.4 L702.8 1292.1 L704.5 1289.7 L706.2 1287.3 L707.8 1284.8 L709.5 1282.3 L711.1 1279.8 L712.7 1277.3 L714.3 1274.8 L715.9 1272.2 L717.5 1269.6 L719.1 1266.9 L720.6 1264.3 L722.2 1261.6 L723.7 1258.9 L725.3 1256.1 L726.8 1253.4 L728.3 1250.6 L729.8 1247.8 L731.3 1245.0 L732.9 1242.1 L734.4 1239.3 L735.9 1236.4 L737.4 1233.6 L739.0 1230.7 L740.5 1227.8 L742.0 1224.9 L743.6 1222.0 L745.2 1219.1 L746.7 1216.1 L748.3 1213.2 L749.9 1210.3 L751.5 1207.3 L753.1 1204.4 L754.7 1201.4 L756.2 1198.4 L757.7 1195.3 L759.2 1192.2 L760.6 1189.0 L762.0 1185.9 L763.4 1182.7 L764.9 1179.7 L766.5 1176.8 L768.2 1173.9 L770.0 1171.2 L771.8 1168.5 L773.6 1165.9 L775.4 1163.4 L777.3 1160.9 L779.2 1158.5 L781.1 1156.1 L783.0 1153.8 L784.9 1151.6 L786.8 1149.4 L788.7 1147.3 L790.6 1145.2 L792.5 1143.3 L794.4 1141.4 L796.3 1139.6 L798.2 1137.9 L800.1 1136.2 L803.9 1133.2 L807.6 1130.5 L811.3 1128.3 L815.0 1126.4 L818.5 1124.9 L822.1 1123.8 L825.6 1123.2 L829.1 1123.0 L832.5 1123.2 L836.0 1123.9 L839.4 1124.9 L842.8 1126.4 L846.2 1128.1 L849.7 1130.2 L853.1 1132.5 L856.5 1135.1 L859.9 1137.8 L863.4 1140.7 L866.9 1143.7 L870.4 1146.8 L874.0 1149.9 L877.6 1153.0 L881.2 1156.0 L884.9 1158.9 L888.6 1161.8 L892.3 1164.6 L896.0 1167.3 L899.6 1170.0 L903.3 1172.5 L907.0 1175.0 L910.6 1177.4 L914.2 1179.8 L917.7 1182.1 L921.2 1184.3 L924.7 1186.5 L928.2 1188.6 L931.6 1190.7 L935.1 1192.7 L938.4 1194.7 L941.8 1196.6 L945.2 1198.5 L948.5 1200.3 L951.9 1202.0 L955.2 1203.7 L958.6 1205.3 L962.0 1206.8 L965.3 1208.3 L968.7 1209.8 L972.1 1211.2 L975.5 1212.5 L978.9 1213.8 L982.3 1215.1 L985.7 1216.4 L989.1 1217.7 L992.5 1218.9 L995.9 1220.1 L999.3 1221.3 L1002.7 1222.4 L1006.1 1223.6 L1009.5 1224.7 L1012.9 1225.7 L1016.3 1226.7 L1019.7 1227.7 L1023.1 1228.6 L1026.5 1229.5 L1030.0 1230.4 L1031.7 1230.8" fill="none" stroke="#000" stroke-width="3.5" stroke-linejoin="round" stroke-linecap="round"/><path d="M1034.6 1214.4 L1031.0 1215.7 L1027.3 1217.0 L1023.6 1218.2 L1020.0 1219.3 L1016.3 1220.5 L1012.6 1221.6 L1009.0 1222.6 L1005.3 1223.7 L1001.7 1224.7 L998.1 1225.6 L994.5 1226.5 L990.9 1227.4 L987.4 1228.3 L983.8 1229.1 L980.3 1229.9 L976.7 1230.6 L973.2 1231.3 L969.7 1231.9 L966.2 1232.6 L962.7 1233.2 L959.1 1233.7 L955.6 1234.3 L952.1 1234.8 L948.6 1235.4 L945.1 1235.9 L941.6 1236.4 L938.1 1236.9 L934.6 1237.4 L931.1 1237.9 L927.6 1238.3 L924.1 1238.8 L920.6 1239.3 L917.1 1239.7 L913.6 1240.1 L910.1 1240.6 L906.6 1241.0 L903.1 1241.4 L899.6 1241.8 L896.1 1242.2 L892.6 1242.6 L889.1 1243.0 L885.5 1243.3 L882.0 1243.7 L878.4 1244.0 L874.9 1244.4 L871.3 1244.7 L867.8 1245.2 L864.2 1245.6 L860.7 1246.2 L857.2 1246.8 L853.7 1247.5 L850.2 1248.3 L846.7 1249.1 L843.2 1250.0 L839.7 1250.9 L836.3 1251.9 L832.8 1253.0 L829.3 1254.0 L825.8 1255.2 L822.3 1256.4 L818.9 1257.7 L815.3 1259.0 L811.8 1260.4 L808.3 1261.8 L804.7 1263.3 L801.2 1264.9 L797.7 1266.6 L794.1 1268.3 L790.6 1270.1 L787.1 1272.1 L783.6 1274.2 L780.1 1276.5 L776.6 1278.9 L773.1 1281.4 L769.6 1284.2 L766.2 1287.2 L762.8 1290.5 L759.4 1293.9 L756.0 1297.7 L754.4 1299.7 L752.7 1301.7 L751.0 1303.8 L749.4 1306.0 L747.8 1308.3 L746.1 1310.6 L744.5 1313.0 L742.9 1315.5 L741.2 1318.1 L739.6 1320.8 L738.0 1323.5 L736.4 1326.3 L734.7 1329.1 L733.1 1332.1 L731.4 1335.1 L729.8 1338.2 L728.1 1341.4 L726.4 1344.7 L724.7 1348.0 L723.0 1351.5 L721.3 1355.0 L719.5 1358.6 L717.7 1362.2 L715.9 1366.0 L714.1 1369.8 L712.3 1373.7 L710.4 1377.7 L708.5 1381.7 L706.6 1385.9 L704.7 1390.1 L702.8 1394.4 L700.8 1398.7 L698.9 1403.2 L697.0 1407.7 L695.1 1412.2 L693.2 1416.9 L691.4 1421.6 L689.5 1426.4 L687.7 1431.2 L685.8 1436.0 L684.0 1440.9 L682.3 1445.8 L680.5 1450.8 L678.7 1455.8 L677.0 1460.7 L675.3 1465.7 L673.7 1470.7 L672.2 1475.7 L670.9 1480.7 L669.4 1485.7 L667.9 1490.5 L666.2 1495.3 L664.4 1499.9 L662.6 1504.5 L660.8 1509.0 L659.1 1513.4 L657.3 1517.7 L655.5 1521.8 L653.7 1525.9 L652.0 1529.9 L650.2 1533.7 L648.5 1537.3 L646.7 1540.9 L645.0 1544.2 L643.3 1547.5 L641.5 1550.5 L639.8 1553.4 L638.1 1556.1 L636.4 1558.7 L634.6 1561.0 L632.9 1563.2 L631.2 1565.1 L627.7 1568.5 L624.1 1571.1 L620.6 1572.9 L617.0 1573.9 L613.4 1574.3 L609.9 1574.0 L606.2 1573.1 L602.6 1571.7 L599.0 1569.8 L595.4 1567.4 L591.8 1564.7 L588.4 1561.6 L585.0 1558.1 L581.8 1554.4 L580.2 1552.5 L578.7 1550.4 L577.2 1548.4 L575.7 1546.3 L574.2 1544.2 L572.7 1542.0 L571.3 1539.9 L569.9 1537.7 L568.4 1535.6 L566.9 1533.4 L565.5 1531.3 L564.0 1529.3 L562.5 1527.2 L561.0 1525.2 L559.4 1523.2 L556.3 1519.4 L553.1 1515.7 L549.8 1512.1 L546.6 1508.7 L543.2 1505.4 L539.9 1502.3 L536.5 1499.2 L533.2 1496.3 L529.8 1493.4 L526.4 1490.6 L523.1 1487.8 L519.7 1485.1 L516.3 1482.2 L513.0 1479.4 L509.6 1476.5 L506.1 1473.8 L502.7 1471.3 L499.2 1469.0 L495.7 1466.9 L492.2 1464.9 L488.7 1463.2 L485.2 1461.6 L481.7 1460.0 L478.1 1458.6 L474.5 1457.3 L471.0 1456.0 L467.4 1454.8 L463.8 1453.7 L460.2 1452.7 L456.5 1451.7 L452.9 1450.7 L449.3 1449.8 L445.7 1448.9 L442.1 1448.0 L438.4 1447.1 L434.8 1446.3 L431.2 1445.4 L427.7 1444.6 L424.1 1443.8 L420.5 1443.0 L417.0 1442.3 L413.4 1441.7 L409.8 1441.1 L406.3 1440.6 L402.7 1440.2 L399.2 1439.8 L395.6 1439.6 L392.1 1439.5 L388.5 1439.4 L384.9 1439.4 L381.3 1439.5 L377.8 1439.7 L374.2 1439.9 L370.6 1440.1 L367.0 1440.4 L363.4 1440.7 L359.9 1441.0 L356.3 1441.3 L352.7 1441.6 L349.2 1441.9 L345.6 1442.1 L342.1 1442.4 L338.5 1442.5 L342.2 1438.9 L345.6 1437.6 L349.0 1436.3 L352.4 1435.0 L355.8 1433.7 L359.1 1432.4 L362.5 1431.2 L365.9 1429.9 L369.3 1428.6 L372.6 1427.4 L376.0 1426.2 L379.4 1425.0 L382.8 1423.9 L386.2 1422.9 L389.6 1421.9 L393.1 1421.0 L396.5 1420.2 L400.0 1419.6 L403.5 1419.0 L407.0 1418.4 L410.5 1418.0 L414.0 1417.6 L417.5 1417.2 L421.0 1416.8 L424.5 1416.4 L428.0 1416.0 L431.5 1415.6 L434.9 1415.1 L438.4 1414.6 L441.9 1414.0 L445.3 1413.5 L448.8 1412.8 L452.2 1412.1 L455.6 1411.4 L459.0 1410.7 L462.5 1409.9 L465.9 1409.2 L469.3 1408.4 L472.7 1407.6 L476.1 1406.8 L479.5 1406.0 L482.8 1405.2 L486.2 1404.4 L489.6 1403.6 L493.0 1402.9 L496.4 1402.1 L499.8 1401.4 L503.2 1400.6 L506.6 1399.9 L510.0 1399.2 L513.3 1398.5 L516.7 1397.8 L520.1 1397.1 L523.6 1396.4 L527.0 1395.8 L530.4 1395.1 L533.8 1394.4 L537.2 1393.8 L540.7 1393.1 L544.1 1392.5 L547.6 1391.9 L551.1 1391.3 L554.6 1390.6 L558.2 1390.0 L561.7 1389.4 L565.3 1388.8 L568.9 1388.1 L572.5 1387.4 L576.1 1386.6 L579.7 1385.7 L583.2 1384.8 L586.8 1383.7 L590.3 1382.4 L593.8 1381.0 L597.2 1379.4 L600.6 1377.6 L603.9 1375.5 L607.1 1373.2 L610.4 1370.8 L613.6 1368.1 L616.8 1365.4 L620.1 1362.7 L623.5 1360.0 L627.1 1357.3 L630.8 1354.7 L634.7 1352.2 L638.6 1349.8 L642.7 1347.4 L646.8 1344.9 L650.9 1342.4 L655.0 1339.8 L659.1 1337.0 L663.1 1334.0 L665.1 1332.5 L667.0 1330.9 L669.0 1329.3 L670.9 1327.6 L672.8 1325.9 L674.7 1324.2 L676.5 1322.4 L678.4 1320.5 L680.2 1318.6 L682.0 1316.7 L683.7 1314.8 L685.5 1312.8 L687.2 1310.7 L688.9 1308.7 L690.7 1306.6 L692.3 1304.5 L694.0 1302.3 L695.7 1300.2 L697.3 1298.0 L699.0 1295.7 L700.6 1293.5 L702.2 1291.2 L703.8 1288.9 L705.4 1286.6 L707.0 1284.2 L708.6 1281.9 L710.1 1279.5 L711.7 1277.1 L713.2 1274.6 L714.7 1272.2 L716.2 1269.7 L717.8 1267.2 L719.3 1264.6 L720.7 1262.1 L722.2 1259.5 L723.7 1256.9 L725.2 1254.2 L726.6 1251.6 L728.1 1248.9 L729.5 1246.2 L731.0 1243.5 L732.5 1240.7 L733.9 1238.0 L735.4 1235.2 L736.9 1232.4 L738.4 1229.6 L739.9 1226.8 L741.4 1224.0 L743.0 1221.1 L744.5 1218.2 L746.1 1215.4 L747.6 1212.5 L749.2 1209.6 L750.8 1206.6 L752.5 1203.7 L754.1 1200.8 L755.7 1197.8 L757.4 1194.8 L759.1 1191.9 L760.7 1188.9 L762.4 1185.9 L764.1 1182.9 L765.9 1179.9 L767.5 1176.8 L769.2 1173.8 L770.9 1170.7 L772.6 1167.7 L774.3 1164.6 L776.0 1161.6 L777.7 1158.5 L779.4 1155.5 L781.1 1152.5 L782.8 1149.5 L784.5 1146.6 L786.2 1143.6 L788.0 1140.7 L789.7 1137.9 L791.4 1135.0 L793.2 1132.3 L794.9 1129.6 L796.7 1126.9 L798.5 1124.4 L800.3 1121.9 L802.1 1119.5 L804.0 1117.2 L805.8 1115.0 L807.7 1112.9 L809.5 1110.9 L811.4 1109.0 L813.3 1107.3 L815.2 1105.6 L819.0 1102.6 L822.7 1100.0 L826.4 1097.7 L830.0 1095.9 L833.7 1094.5 L837.2 1093.5 L840.8 1092.9 L844.3 1092.8 L847.8 1093.0 L851.3 1093.6 L854.8 1094.7 L858.3 1096.0 L861.8 1097.7 L865.3 1099.6 L868.9 1101.8 L872.4 1104.2 L876.0 1106.7 L879.7 1109.4 L883.4 1112.3 L887.1 1115.3 L890.8 1118.3 L894.5 1121.5 L898.2 1124.7 L901.9 1127.9 L905.5 1131.2 L909.1 1134.5 L912.7 1137.7 L916.2 1140.9 L919.8 1144.0 L923.2 1147.1 L926.7 1150.1 L930.1 1153.1 L933.5 1156.0 L936.9 1158.8 L940.2 1161.6 L943.6 1164.2 L947.0 1166.7 L950.3 1169.1 L953.7 1171.5 L957.1 1173.7 L960.5 1175.8 L964.0 1177.7 L967.4 1179.6 L970.9 1181.4 L974.4 1183.2 L977.8 1184.8 L981.3 1186.4 L984.7 1188.0 L988.2 1189.6 L991.6 1191.1 L995.1 1192.6 L998.5 1194.1 L1001.9 1195.6 L1005.3 1197.0 L1008.7 1198.4 L1012.1 1199.7 L1015.5 1201.0 L1018.9 1202.3 L1022.3 1203.5 L1025.8 1204.6 L1029.2 1205.8 L1032.6 1206.8" fill="none" stroke="#000" stroke-width="3.5" stroke-linejoin="round" stroke-linecap="round"/><path d="M1034.6 1185.2 L1030.9 1187.2 L1027.2 1189.1 L1023.5 1190.9 L1019.8 1192.6 L1016.0 1194.1 L1012.3 1195.6 L1008.6 1197.1 L1004.9 1198.4 L1001.2 1199.7 L997.5 1201.0 L993.9 1202.2 L990.3 1203.4 L986.7 1204.5 L983.1 1205.7 L979.6 1206.9 L976.1 1208.0 L972.6 1209.2 L969.1 1210.3 L965.7 1211.5 L962.2 1212.6 L958.8 1213.8 L955.4 1215.0 L952.0 1216.1 L948.6 1217.2 L945.1 1218.3 L941.7 1219.4 L938.3 1220.4 L934.8 1221.4 L931.4 1222.4 L927.9 1223.4 L924.5 1224.3 L921.0 1225.2 L917.5 1226.0 L914.0 1226.8 L910.4 1227.5 L906.9 1228.2 L903.3 1228.8 L899.8 1229.4 L896.2 1230.0 L892.6 1230.6 L889.0 1231.1 L885.4 1231.7 L881.9 1232.4 L878.3 1233.0 L874.7 1233.7 L871.1 1234.4 L867.5 1235.2 L863.9 1235.9 L860.2 1236.7 L856.6 1237.4 L853.0 1238.3 L849.4 1239.1 L845.8 1240.1 L842.2 1241.1 L838.6 1242.2 L835.1 1243.4 L831.6 1244.8 L828.1 1246.2 L824.7 1247.8 L821.3 1249.5 L817.9 1251.4 L814.6 1253.5 L811.3 1255.6 L807.9 1257.9 L804.6 1260.3 L801.2 1262.7 L797.8 1265.1 L794.3 1267.5 L790.7 1269.9 L787.1 1272.3 L783.5 1274.8 L779.9 1277.5 L776.3 1280.2 L772.6 1283.1 L769.0 1286.2 L765.4 1289.5 L761.9 1293.0 L760.1 1294.9 L758.3 1296.8 L756.6 1298.8 L754.9 1300.8 L753.1 1302.9 L751.4 1305.1 L749.7 1307.3 L748.1 1309.6 L746.4 1312.0 L744.7 1314.5 L743.1 1317.0 L741.5 1319.6 L739.8 1322.3 L738.2 1325.0 L736.6 1327.8 L735.0 1330.6 L733.4 1333.6 L731.8 1336.6 L730.1 1339.6 L728.5 1342.7 L726.9 1345.9 L725.3 1349.1 L723.6 1352.4 L722.0 1355.8 L720.3 1359.2 L718.6 1362.7 L716.9 1366.2 L715.2 1369.8 L713.5 1373.4 L711.7 1377.1 L710.0 1380.9 L708.2 1384.7 L706.5 1388.6 L704.7 1392.6 L703.0 1396.6 L701.2 1400.6 L699.5 1404.8 L697.8 1408.9 L696.1 1413.2 L694.4 1417.5 L692.7 1421.8 L691.0 1426.2 L689.4 1430.7 L687.8 1435.2 L686.2 1439.7 L684.5 1444.2 L682.9 1448.8 L681.3 1453.4 L679.6 1458.1 L677.9 1462.7 L676.2 1467.3 L674.4 1471.9 L672.6 1476.5 L670.8 1481.1 L669.0 1485.7 L667.1 1490.3 L665.2 1494.8 L663.4 1499.4 L661.4 1503.9 L659.5 1508.3 L657.6 1512.7 L655.7 1517.1 L653.7 1521.4 L651.8 1525.7 L649.8 1529.9 L647.9 1534.0 L646.0 1538.1 L644.1 1542.1 L642.3 1546.1 L640.4 1550.0 L638.6 1553.8 L636.9 1557.5 L635.1 1561.1 L633.4 1564.7 L631.7 1568.2 L630.0 1571.6 L628.4 1574.9 L626.7 1578.1 L625.1 1581.2 L623.5 1584.2 L621.9 1587.1 L620.3 1589.8 L618.7 1592.4 L617.0 1594.8 L615.4 1597.1 L613.8 1599.2 L612.1 1601.2 L608.8 1604.5 L605.5 1607.2 L602.1 1609.1 L598.7 1610.3 L595.3 1610.8 L591.8 1610.6 L588.4 1609.8 L585.0 1608.4 L581.5 1606.4 L578.1 1603.9 L574.7 1600.9 L571.4 1597.4 L568.2 1593.6 L566.6 1591.5 L565.0 1589.4 L563.5 1587.2 L562.0 1584.9 L560.5 1582.6 L559.0 1580.3 L557.6 1577.9 L556.2 1575.5 L554.8 1573.1 L553.4 1570.6 L552.0 1568.2 L550.7 1565.7 L549.3 1563.3 L547.9 1560.9 L546.6 1558.5 L545.2 1556.1 L543.8 1553.8 L542.4 1551.4 L541.0 1549.1 L539.5 1546.9 L538.1 1544.7 L536.6 1542.5 L535.1 1540.4 L533.6 1538.3 L532.1 1536.2 L530.5 1534.2 L529.0 1532.2 L527.4 1530.3 L525.7 1528.4 L524.0 1526.5 L522.3 1524.6 L520.5 1522.8 L518.7 1521.0 L516.8 1519.3 L514.8 1517.6 L512.8 1515.9 L510.8 1514.3 L508.7 1512.7 L506.7 1511.2 L504.6 1509.8 L500.7 1507.0 L496.8 1504.3 L493.1 1501.9 L489.4 1499.5 L485.7 1497.3 L482.0 1495.2 L478.4 1493.2 L474.7 1491.4 L471.0 1489.6 L467.3 1487.9 L463.5 1486.3 L459.8 1484.7 L456.1 1483.3 L452.4 1481.8 L448.8 1480.4 L445.1 1479.1 L441.5 1477.7 L437.8 1476.5 L434.2 1475.2 L430.6 1474.1 L427.0 1472.9 L423.4 1471.8 L419.8 1470.8 L416.2 1469.8 L412.7 1468.9 L409.1 1468.0 L405.5 1467.2 L401.9 1466.5 L398.3 1465.9 L394.7 1465.3 L391.1 1464.8 L387.5 1464.4 L383.9 1464.0 L380.2 1463.8 L376.6 1463.6 L373.0 1463.6 L369.3 1463.6 L365.7 1463.7 L362.0 1463.9 L358.4 1464.1 L354.8 1464.4 L351.1 1464.6 L347.5 1464.9 L343.9 1465.1 L340.3 1465.3 L336.7 1465.4 L341.6 1463.6 L345.0 1461.6 L348.5 1459.6 L351.9 1457.5 L355.4 1455.4 L358.8 1453.3 L362.2 1451.2 L365.6 1449.1 L369.0 1447.0 L372.4 1445.0 L375.8 1443.1 L379.2 1441.3 L382.6 1439.7 L386.1 1438.1 L389.5 1436.6 L392.9 1435.2 L396.4 1433.8 L399.8 1432.5 L403.2 1431.3 L406.6 1430.0 L410.0 1428.8 L413.4 1427.6 L416.8 1426.4 L420.1 1425.2 L423.5 1424.0 L426.8 1422.8 L430.2 1421.7 L433.6 1420.6 L436.9 1419.5 L440.3 1418.5 L443.7 1417.6 L447.1 1416.8 L450.5 1416.0 L453.9 1415.4 L457.4 1414.8 L460.9 1414.2 L464.3 1413.8 L467.8 1413.3 L471.3 1412.9 L474.7 1412.4 L478.2 1411.9 L481.6 1411.3 L485.0 1410.7 L488.5 1410.0 L491.9 1409.3 L495.3 1408.5 L498.6 1407.7 L502.0 1406.9 L505.4 1406.1 L508.8 1405.3 L512.2 1404.5 L515.6 1403.7 L519.0 1402.9 L522.4 1402.1 L525.9 1401.2 L529.3 1400.4 L532.8 1399.6 L536.2 1398.8 L539.7 1398.0 L543.2 1397.2 L546.8 1396.4 L550.3 1395.6 L554.0 1394.8 L557.6 1394.0 L561.3 1393.3 L565.0 1392.6 L568.8 1391.8 L572.6 1391.0 L576.5 1390.2 L580.4 1389.3 L584.2 1388.4 L588.1 1387.3 L591.9 1386.0 L595.6 1384.5 L599.3 1382.8 L602.9 1380.9 L606.3 1378.7 L609.7 1376.3 L612.9 1373.6 L616.1 1370.6 L619.2 1367.5 L622.3 1364.3 L625.5 1361.0 L628.7 1357.7 L632.1 1354.5 L635.7 1351.4 L639.5 1348.5 L643.5 1345.6 L647.6 1342.9 L651.8 1340.2 L653.9 1338.8 L656.0 1337.4 L658.1 1336.0 L660.2 1334.5 L662.3 1333.0 L664.3 1331.5 L666.4 1329.9 L668.4 1328.3 L670.3 1326.6 L672.3 1324.9 L674.2 1323.2 L676.1 1321.3 L678.0 1319.5 L679.8 1317.6 L681.6 1315.6 L683.4 1313.7 L685.2 1311.6 L686.9 1309.6 L688.7 1307.5 L690.4 1305.4 L692.1 1303.2 L693.8 1301.1 L695.5 1298.8 L697.1 1296.6 L698.8 1294.3 L700.4 1292.1 L702.0 1289.8 L703.6 1287.4 L705.2 1285.1 L706.8 1282.7 L708.4 1280.3 L710.0 1277.8 L711.5 1275.4 L713.1 1272.9 L714.6 1270.4 L716.2 1267.9 L717.7 1265.3 L719.2 1262.8 L720.7 1260.2 L722.2 1257.6 L723.7 1254.9 L725.1 1252.3 L726.6 1249.6 L728.1 1246.9 L729.6 1244.2 L731.1 1241.4 L732.6 1238.7 L734.1 1236.0 L735.6 1233.2 L737.1 1230.4 L738.7 1227.6 L740.2 1224.8 L741.8 1222.0 L743.3 1219.2 L744.9 1216.3 L746.5 1213.4 L748.0 1210.5 L749.6 1207.6 L751.1 1204.7 L752.6 1201.7 L754.2 1198.8 L755.7 1195.8 L757.2 1192.7 L758.8 1189.7 L760.3 1186.7 L761.8 1183.6 L763.4 1180.6 L765.0 1177.5 L766.6 1174.5 L768.1 1171.4 L769.8 1168.3 L771.4 1165.2 L773.0 1162.2 L774.6 1159.1 L776.2 1156.0 L777.8 1152.9 L779.4 1149.8 L781.1 1146.7 L782.7 1143.6 L784.3 1140.6 L786.0 1137.5 L787.7 1134.5 L789.3 1131.5 L791.1 1128.5 L792.8 1125.6 L794.6 1122.7 L796.4 1119.9 L798.3 1117.1 L800.1 1114.4 L802.0 1111.7 L804.0 1109.1 L805.9 1106.5 L807.9 1104.0 L809.9 1101.6 L811.9 1099.2 L813.9 1096.9 L815.9 1094.6 L817.9 1092.5 L819.9 1090.4 L821.9 1088.4 L823.8 1086.4 L825.8 1084.5 L827.7 1082.7 L829.6 1081.0 L831.5 1079.4 L835.2 1076.3 L838.8 1073.5 L842.4 1071.0 L845.9 1068.8 L849.3 1066.9 L852.7 1065.3 L856.1 1064.1 L859.5 1063.1 L862.8 1062.6 L866.2 1062.4 L869.6 1062.5 L873.0 1063.1 L876.4 1063.9 L879.9 1065.1 L883.3 1066.6 L886.9 1068.4 L890.4 1070.5 L894.0 1072.8 L897.6 1075.4 L901.2 1078.2 L904.9 1081.1 L908.5 1084.2 L912.2 1087.5 L915.8 1090.8 L919.4 1094.2 L923.0 1097.7 L926.5 1101.2 L930.1 1104.7 L933.6 1108.1 L937.1 1111.6 L940.5 1115.0 L943.9 1118.3 L947.3 1121.6 L950.6 1124.9 L954.0 1128.0 L957.3 1131.1 L960.6 1134.1 L964.0 1137.0 L967.3 1139.8 L970.7 1142.4 L974.1 1145.0 L977.5 1147.5 L980.9 1149.8 L984.4 1152.1 L987.8 1154.3 L991.2 1156.5 L994.7 1158.5 L998.1 1160.5 L1001.6 1162.4 L1005.0 1164.3 L1008.4 1166.1 L1011.9 1167.8 L1015.3 1169.5 L1018.8 1171.1 L1022.3 1172.7 L1025.7 1174.2 L1029.2 1175.7 L1032.6 1177.1" fill="none" stroke="#000" stroke-width="3.5" stroke-linejoin="round" stroke-linecap="round"/></g>
</svg></body></html>
